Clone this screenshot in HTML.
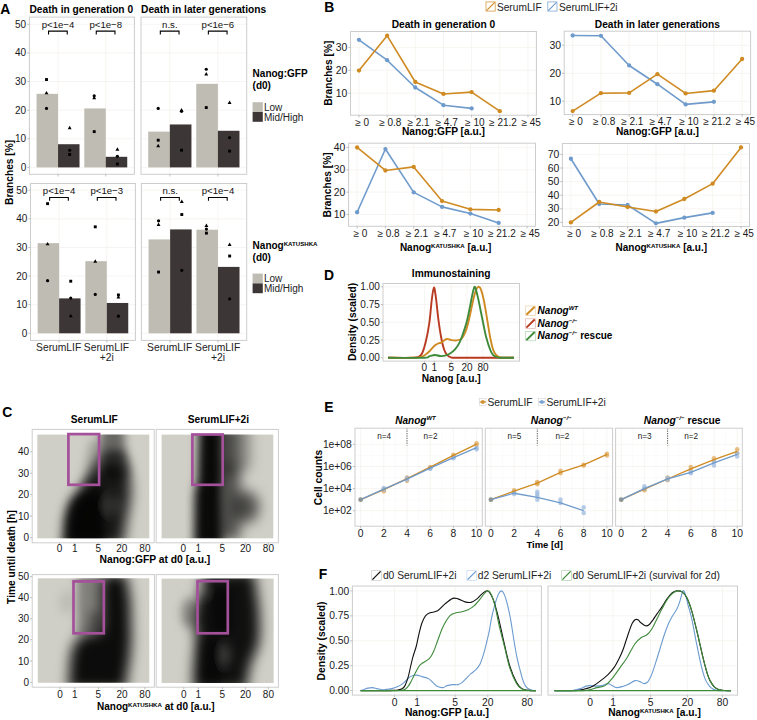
<!DOCTYPE html>
<html><head><meta charset="utf-8"><style>
html,body{margin:0;padding:0;background:#fff;width:757px;height:720px;overflow:hidden;}
body{position:relative;font-family:"Liberation Sans", sans-serif;}
</style></head><body>
<svg width="757" height="720" viewBox="0 0 757 720" style="position:absolute;left:0;top:0">
<g font-family='"Liberation Sans", sans-serif'>
<text x="0.20" y="14.00" font-size="13.9" text-anchor="start" font-weight="bold" font-style="normal" fill="#000" >A</text>
<text x="324.20" y="11.80" font-size="13.9" text-anchor="start" font-weight="bold" font-style="normal" fill="#000" >B</text>
<text x="2.20" y="417.20" font-size="13.9" text-anchor="start" font-weight="bold" font-style="normal" fill="#000" >C</text>
<text x="324.00" y="280.00" font-size="13.9" text-anchor="start" font-weight="bold" font-style="normal" fill="#000" >D</text>
<text x="324.20" y="412.00" font-size="13.9" text-anchor="start" font-weight="bold" font-style="normal" fill="#000" >E</text>
<text x="318.80" y="578.70" font-size="13.9" text-anchor="start" font-weight="bold" font-style="normal" fill="#000" >F</text>
<line x1="29.40" y1="167.40" x2="134.40" y2="167.40" stroke="#f1efe8" stroke-width="0.6"/>
<line x1="29.40" y1="138.78" x2="134.40" y2="138.78" stroke="#f1efe8" stroke-width="0.6"/>
<line x1="29.40" y1="110.16" x2="134.40" y2="110.16" stroke="#f1efe8" stroke-width="0.6"/>
<line x1="29.40" y1="81.54" x2="134.40" y2="81.54" stroke="#f1efe8" stroke-width="0.6"/>
<line x1="29.40" y1="52.92" x2="134.40" y2="52.92" stroke="#f1efe8" stroke-width="0.6"/>
<line x1="29.40" y1="24.30" x2="134.40" y2="24.30" stroke="#f1efe8" stroke-width="0.6"/>
<line x1="58.04" y1="17.10" x2="58.04" y2="174.30" stroke="#f1efe8" stroke-width="0.6" />
<line x1="105.76" y1="17.10" x2="105.76" y2="174.30" stroke="#f1efe8" stroke-width="0.6" />
<rect x="36.56" y="93.85" width="21.48" height="73.55" fill="#bfbcb3"/>
<rect x="58.04" y="144.22" width="21.48" height="23.18" fill="#3d3636"/>
<rect x="45.05" y="78.09" width="2.9" height="2.9" fill="#000"/>
<path d="M46.50,90.89 L48.45,94.34 L44.55,94.34Z" fill="#000"/>
<circle cx="46.50" cy="108.44" r="1.6" fill="#000"/>
<path d="M69.67,125.80 L71.62,129.25 L67.72,129.25Z" fill="#000"/>
<circle cx="69.67" cy="150.23" r="1.6" fill="#000"/>
<rect x="68.22" y="153.07" width="2.9" height="2.9" fill="#000"/>
<path d="M48.54,34.40 V31.10 H67.24 V34.40" fill="none" stroke="#000" stroke-width="1.1"/>
<text x="58.04" y="27.90" font-size="9.6" text-anchor="middle" font-weight="normal" font-style="normal" fill="#111" >p&lt;1e&#8722;4</text>
<rect x="84.29" y="108.44" width="21.48" height="58.96" fill="#bfbcb3"/>
<rect x="105.76" y="156.81" width="21.48" height="10.59" fill="#3d3636"/>
<circle cx="94.22" cy="95.85" r="1.6" fill="#000"/>
<path d="M94.22,95.75 L96.17,99.20 L92.27,99.20Z" fill="#000"/>
<rect x="92.77" y="130.18" width="2.9" height="2.9" fill="#000"/>
<path d="M117.40,147.27 L119.35,150.72 L115.45,150.72Z" fill="#000"/>
<circle cx="117.40" cy="156.24" r="1.6" fill="#000"/>
<rect x="115.95" y="162.52" width="2.9" height="2.9" fill="#000"/>
<path d="M96.26,34.40 V31.10 H114.96 V34.40" fill="none" stroke="#000" stroke-width="1.1"/>
<text x="105.76" y="27.90" font-size="9.6" text-anchor="middle" font-weight="normal" font-style="normal" fill="#111" >p&lt;1e&#8722;8</text>
<rect x="29.40" y="17.10" width="105.00" height="157.20" fill="none" stroke="#cdcdcd" stroke-width="1"/>
<line x1="58.04" y1="174.30" x2="58.04" y2="176.50" stroke="#a8a8a8" stroke-width="0.7"/>
<line x1="105.76" y1="174.30" x2="105.76" y2="176.50" stroke="#a8a8a8" stroke-width="0.7"/>
<line x1="141.00" y1="167.40" x2="246.70" y2="167.40" stroke="#f1efe8" stroke-width="0.6"/>
<line x1="141.00" y1="138.78" x2="246.70" y2="138.78" stroke="#f1efe8" stroke-width="0.6"/>
<line x1="141.00" y1="110.16" x2="246.70" y2="110.16" stroke="#f1efe8" stroke-width="0.6"/>
<line x1="141.00" y1="81.54" x2="246.70" y2="81.54" stroke="#f1efe8" stroke-width="0.6"/>
<line x1="141.00" y1="52.92" x2="246.70" y2="52.92" stroke="#f1efe8" stroke-width="0.6"/>
<line x1="141.00" y1="24.30" x2="246.70" y2="24.30" stroke="#f1efe8" stroke-width="0.6"/>
<line x1="169.83" y1="17.10" x2="169.83" y2="174.30" stroke="#f1efe8" stroke-width="0.6" />
<line x1="217.87" y1="17.10" x2="217.87" y2="174.30" stroke="#f1efe8" stroke-width="0.6" />
<rect x="148.21" y="131.62" width="21.62" height="35.78" fill="#bfbcb3"/>
<rect x="169.83" y="124.47" width="21.62" height="42.93" fill="#3d3636"/>
<circle cx="158.22" cy="108.44" r="1.6" fill="#000"/>
<rect x="156.77" y="138.76" width="2.9" height="2.9" fill="#000"/>
<path d="M158.22,143.84 L160.17,147.28 L156.27,147.28Z" fill="#000"/>
<path d="M181.54,108.06 L183.49,111.51 L179.59,111.51Z" fill="#000"/>
<circle cx="181.54" cy="111.30" r="1.6" fill="#000"/>
<rect x="180.09" y="148.78" width="2.9" height="2.9" fill="#000"/>
<path d="M160.33,34.40 V31.10 H179.03 V34.40" fill="none" stroke="#000" stroke-width="1.1"/>
<text x="169.83" y="27.90" font-size="9.6" text-anchor="middle" font-weight="normal" font-style="normal" fill="#111" >n.s.</text>
<rect x="196.25" y="83.83" width="21.62" height="83.57" fill="#bfbcb3"/>
<rect x="217.87" y="130.77" width="21.62" height="36.63" fill="#3d3636"/>
<circle cx="206.26" cy="69.23" r="1.6" fill="#000"/>
<path d="M206.26,72.00 L208.21,75.45 L204.31,75.45Z" fill="#000"/>
<rect x="204.81" y="106.13" width="2.9" height="2.9" fill="#000"/>
<path d="M229.58,100.62 L231.53,104.07 L227.63,104.07Z" fill="#000"/>
<circle cx="229.58" cy="137.64" r="1.6" fill="#000"/>
<rect x="228.13" y="149.64" width="2.9" height="2.9" fill="#000"/>
<path d="M208.37,34.40 V31.10 H227.07 V34.40" fill="none" stroke="#000" stroke-width="1.1"/>
<text x="217.87" y="27.90" font-size="9.6" text-anchor="middle" font-weight="normal" font-style="normal" fill="#111" >p&lt;1e&#8722;6</text>
<rect x="141.00" y="17.10" width="105.70" height="157.20" fill="none" stroke="#cdcdcd" stroke-width="1"/>
<line x1="169.83" y1="174.30" x2="169.83" y2="176.50" stroke="#a8a8a8" stroke-width="0.7"/>
<line x1="217.87" y1="174.30" x2="217.87" y2="176.50" stroke="#a8a8a8" stroke-width="0.7"/>
<line x1="30.50" y1="333.30" x2="135.40" y2="333.30" stroke="#f1efe8" stroke-width="0.6"/>
<line x1="30.50" y1="304.68" x2="135.40" y2="304.68" stroke="#f1efe8" stroke-width="0.6"/>
<line x1="30.50" y1="276.06" x2="135.40" y2="276.06" stroke="#f1efe8" stroke-width="0.6"/>
<line x1="30.50" y1="247.44" x2="135.40" y2="247.44" stroke="#f1efe8" stroke-width="0.6"/>
<line x1="30.50" y1="218.82" x2="135.40" y2="218.82" stroke="#f1efe8" stroke-width="0.6"/>
<line x1="30.50" y1="190.20" x2="135.40" y2="190.20" stroke="#f1efe8" stroke-width="0.6"/>
<line x1="59.11" y1="183.50" x2="59.11" y2="340.40" stroke="#f1efe8" stroke-width="0.6" />
<line x1="106.79" y1="183.50" x2="106.79" y2="340.40" stroke="#f1efe8" stroke-width="0.6" />
<rect x="37.65" y="243.15" width="21.46" height="90.15" fill="#bfbcb3"/>
<rect x="59.11" y="298.38" width="21.46" height="34.92" fill="#3d3636"/>
<rect x="46.13" y="202.20" width="2.9" height="2.9" fill="#000"/>
<path d="M47.58,241.91 L49.53,245.36 L45.63,245.36Z" fill="#000"/>
<circle cx="47.58" cy="280.64" r="1.6" fill="#000"/>
<rect x="69.29" y="279.76" width="2.9" height="2.9" fill="#000"/>
<circle cx="70.74" cy="298.10" r="1.6" fill="#000"/>
<path d="M70.74,313.74 L72.69,317.19 L68.79,317.19Z" fill="#000"/>
<path d="M49.61,200.80 V197.50 H68.31 V200.80" fill="none" stroke="#000" stroke-width="1.1"/>
<text x="59.11" y="194.30" font-size="9.6" text-anchor="middle" font-weight="normal" font-style="normal" fill="#111" >p&lt;1e&#8722;4</text>
<rect x="85.33" y="261.18" width="21.46" height="72.12" fill="#bfbcb3"/>
<rect x="106.79" y="302.96" width="21.46" height="30.34" fill="#3d3636"/>
<rect x="93.81" y="225.38" width="2.9" height="2.9" fill="#000"/>
<path d="M95.26,259.36 L97.21,262.81 L93.31,262.81Z" fill="#000"/>
<circle cx="95.26" cy="294.38" r="1.6" fill="#000"/>
<rect x="116.97" y="293.50" width="2.9" height="2.9" fill="#000"/>
<path d="M118.42,295.14 L120.37,298.59 L116.47,298.59Z" fill="#000"/>
<circle cx="118.42" cy="316.13" r="1.6" fill="#000"/>
<path d="M97.29,200.80 V197.50 H115.99 V200.80" fill="none" stroke="#000" stroke-width="1.1"/>
<text x="106.79" y="194.30" font-size="9.6" text-anchor="middle" font-weight="normal" font-style="normal" fill="#111" >p&lt;1e&#8722;3</text>
<rect x="30.50" y="183.50" width="104.90" height="156.90" fill="none" stroke="#cdcdcd" stroke-width="1"/>
<line x1="59.11" y1="340.40" x2="59.11" y2="342.60" stroke="#a8a8a8" stroke-width="0.7"/>
<line x1="106.79" y1="340.40" x2="106.79" y2="342.60" stroke="#a8a8a8" stroke-width="0.7"/>
<line x1="141.40" y1="333.30" x2="246.70" y2="333.30" stroke="#f1efe8" stroke-width="0.6"/>
<line x1="141.40" y1="304.68" x2="246.70" y2="304.68" stroke="#f1efe8" stroke-width="0.6"/>
<line x1="141.40" y1="276.06" x2="246.70" y2="276.06" stroke="#f1efe8" stroke-width="0.6"/>
<line x1="141.40" y1="247.44" x2="246.70" y2="247.44" stroke="#f1efe8" stroke-width="0.6"/>
<line x1="141.40" y1="218.82" x2="246.70" y2="218.82" stroke="#f1efe8" stroke-width="0.6"/>
<line x1="141.40" y1="190.20" x2="246.70" y2="190.20" stroke="#f1efe8" stroke-width="0.6"/>
<line x1="170.12" y1="183.50" x2="170.12" y2="340.40" stroke="#f1efe8" stroke-width="0.6" />
<line x1="217.98" y1="183.50" x2="217.98" y2="340.40" stroke="#f1efe8" stroke-width="0.6" />
<rect x="148.58" y="239.43" width="21.54" height="93.87" fill="#bfbcb3"/>
<rect x="170.12" y="229.41" width="21.54" height="103.89" fill="#3d3636"/>
<circle cx="158.55" cy="220.82" r="1.6" fill="#000"/>
<path d="M158.55,222.44 L160.50,225.89 L156.60,225.89Z" fill="#000"/>
<rect x="157.10" y="270.60" width="2.9" height="2.9" fill="#000"/>
<path d="M181.79,199.55 L183.74,203.00 L179.84,203.00Z" fill="#000"/>
<rect x="180.34" y="213.08" width="2.9" height="2.9" fill="#000"/>
<circle cx="181.79" cy="270.34" r="1.6" fill="#000"/>
<path d="M160.62,200.80 V197.50 H179.32 V200.80" fill="none" stroke="#000" stroke-width="1.1"/>
<text x="170.12" y="194.30" font-size="9.6" text-anchor="middle" font-weight="normal" font-style="normal" fill="#111" >n.s.</text>
<rect x="196.44" y="229.70" width="21.54" height="103.60" fill="#bfbcb3"/>
<rect x="217.98" y="266.90" width="21.54" height="66.40" fill="#3d3636"/>
<path d="M206.41,223.59 L208.36,227.04 L204.46,227.04Z" fill="#000"/>
<circle cx="206.41" cy="229.12" r="1.6" fill="#000"/>
<rect x="204.96" y="231.68" width="2.9" height="2.9" fill="#000"/>
<path d="M229.65,242.48 L231.60,245.93 L227.70,245.93Z" fill="#000"/>
<rect x="228.20" y="254.58" width="2.9" height="2.9" fill="#000"/>
<circle cx="229.65" cy="298.96" r="1.6" fill="#000"/>
<path d="M208.48,200.80 V197.50 H227.18 V200.80" fill="none" stroke="#000" stroke-width="1.1"/>
<text x="217.98" y="194.30" font-size="9.6" text-anchor="middle" font-weight="normal" font-style="normal" fill="#111" >p&lt;1e&#8722;4</text>
<rect x="141.40" y="183.50" width="105.30" height="156.90" fill="none" stroke="#cdcdcd" stroke-width="1"/>
<line x1="170.12" y1="340.40" x2="170.12" y2="342.60" stroke="#a8a8a8" stroke-width="0.7"/>
<line x1="217.98" y1="340.40" x2="217.98" y2="342.60" stroke="#a8a8a8" stroke-width="0.7"/>
<line x1="27.20" y1="167.40" x2="29.40" y2="167.40" stroke="#a8a8a8" stroke-width="0.7"/>
<text x="26.20" y="170.90" font-size="10" text-anchor="end" font-weight="normal" font-style="normal" fill="#1a1a1a" >0</text>
<line x1="28.30" y1="333.30" x2="30.50" y2="333.30" stroke="#a8a8a8" stroke-width="0.7"/>
<text x="27.30" y="336.80" font-size="10" text-anchor="end" font-weight="normal" font-style="normal" fill="#1a1a1a" >0</text>
<line x1="27.20" y1="138.78" x2="29.40" y2="138.78" stroke="#a8a8a8" stroke-width="0.7"/>
<text x="26.20" y="142.28" font-size="10" text-anchor="end" font-weight="normal" font-style="normal" fill="#1a1a1a" >10</text>
<line x1="28.30" y1="304.68" x2="30.50" y2="304.68" stroke="#a8a8a8" stroke-width="0.7"/>
<text x="27.30" y="308.18" font-size="10" text-anchor="end" font-weight="normal" font-style="normal" fill="#1a1a1a" >10</text>
<line x1="27.20" y1="110.16" x2="29.40" y2="110.16" stroke="#a8a8a8" stroke-width="0.7"/>
<text x="26.20" y="113.66" font-size="10" text-anchor="end" font-weight="normal" font-style="normal" fill="#1a1a1a" >20</text>
<line x1="28.30" y1="276.06" x2="30.50" y2="276.06" stroke="#a8a8a8" stroke-width="0.7"/>
<text x="27.30" y="279.56" font-size="10" text-anchor="end" font-weight="normal" font-style="normal" fill="#1a1a1a" >20</text>
<line x1="27.20" y1="81.54" x2="29.40" y2="81.54" stroke="#a8a8a8" stroke-width="0.7"/>
<text x="26.20" y="85.04" font-size="10" text-anchor="end" font-weight="normal" font-style="normal" fill="#1a1a1a" >30</text>
<line x1="28.30" y1="247.44" x2="30.50" y2="247.44" stroke="#a8a8a8" stroke-width="0.7"/>
<text x="27.30" y="250.94" font-size="10" text-anchor="end" font-weight="normal" font-style="normal" fill="#1a1a1a" >30</text>
<line x1="27.20" y1="52.92" x2="29.40" y2="52.92" stroke="#a8a8a8" stroke-width="0.7"/>
<text x="26.20" y="56.42" font-size="10" text-anchor="end" font-weight="normal" font-style="normal" fill="#1a1a1a" >40</text>
<line x1="28.30" y1="218.82" x2="30.50" y2="218.82" stroke="#a8a8a8" stroke-width="0.7"/>
<text x="27.30" y="222.32" font-size="10" text-anchor="end" font-weight="normal" font-style="normal" fill="#1a1a1a" >40</text>
<line x1="27.20" y1="24.30" x2="29.40" y2="24.30" stroke="#a8a8a8" stroke-width="0.7"/>
<text x="26.20" y="27.80" font-size="10" text-anchor="end" font-weight="normal" font-style="normal" fill="#1a1a1a" >50</text>
<line x1="28.30" y1="190.20" x2="30.50" y2="190.20" stroke="#a8a8a8" stroke-width="0.7"/>
<text x="27.30" y="193.70" font-size="10" text-anchor="end" font-weight="normal" font-style="normal" fill="#1a1a1a" >50</text>
<text x="29.50" y="13.30" font-size="10.2" text-anchor="start" font-weight="bold" font-style="normal" fill="#000" >Death in generation 0</text>
<text x="141.10" y="13.30" font-size="10.2" text-anchor="start" font-weight="bold" font-style="normal" fill="#000" >Death in later generations</text>
<text transform="translate(13.40,172.40) rotate(-90)" font-size="10.2" text-anchor="middle" font-weight="bold" fill="#000">Branches [%]</text>
<text x="58.66" y="350.60" font-size="10.3" text-anchor="middle" font-weight="normal" font-style="normal" fill="#222" >SerumLIF</text>
<text x="106.44" y="350.60" font-size="10.3" text-anchor="middle" font-weight="normal" font-style="normal" fill="#222" >SerumLIF</text>
<text x="106.89" y="361.40" font-size="10.3" text-anchor="middle" font-weight="normal" font-style="normal" fill="#222" >+2i</text>
<text x="169.67" y="350.60" font-size="10.3" text-anchor="middle" font-weight="normal" font-style="normal" fill="#222" >SerumLIF</text>
<text x="217.63" y="350.60" font-size="10.3" text-anchor="middle" font-weight="normal" font-style="normal" fill="#222" >SerumLIF</text>
<text x="218.08" y="361.40" font-size="10.3" text-anchor="middle" font-weight="normal" font-style="normal" fill="#222" >+2i</text>
<text x="252.60" y="77.20" font-size="10" text-anchor="start" font-weight="bold" font-style="normal" fill="#000" >Nanog:GFP</text>
<text x="252.60" y="89.00" font-size="10" text-anchor="start" font-weight="bold" font-style="normal" fill="#000" >(d0)</text>
<rect x="252.6" y="102.20" width="10.2" height="9.8" fill="#bfbcb3"/>
<rect x="252.6" y="112.00" width="10.2" height="9.8" fill="#3d3636"/>
<text x="263.90" y="110.60" font-size="10" text-anchor="start" font-weight="normal" font-style="normal" fill="#222" >Low</text>
<text x="263.90" y="120.50" font-size="10" text-anchor="start" font-weight="normal" font-style="normal" fill="#222" >Mid/High</text>
<text x="252.6" y="248.90" font-size="10" font-weight="bold">Nanog<tspan font-size="6.1" dy="-3.1">KATUSHKA</tspan></text>
<text x="252.60" y="260.70" font-size="10" text-anchor="start" font-weight="bold" font-style="normal" fill="#000" >(d0)</text>
<rect x="252.6" y="273.60" width="10.2" height="9.8" fill="#bfbcb3"/>
<rect x="252.6" y="283.40" width="10.2" height="9.8" fill="#3d3636"/>
<text x="263.90" y="282.00" font-size="10" text-anchor="start" font-weight="normal" font-style="normal" fill="#222" >Low</text>
<text x="263.90" y="291.90" font-size="10" text-anchor="start" font-weight="normal" font-style="normal" fill="#222" >Mid/High</text>
<line x1="350.50" y1="93.25" x2="536.40" y2="93.25" stroke="#f1efe8" stroke-width="0.6"/>
<line x1="350.50" y1="70.30" x2="536.40" y2="70.30" stroke="#f1efe8" stroke-width="0.6"/>
<line x1="350.50" y1="47.35" x2="536.40" y2="47.35" stroke="#f1efe8" stroke-width="0.6"/>
<line x1="358.95" y1="31.50" x2="358.95" y2="115.20" stroke="#f1efe8" stroke-width="0.6" />
<line x1="387.12" y1="31.50" x2="387.12" y2="115.20" stroke="#f1efe8" stroke-width="0.6" />
<line x1="415.28" y1="31.50" x2="415.28" y2="115.20" stroke="#f1efe8" stroke-width="0.6" />
<line x1="443.45" y1="31.50" x2="443.45" y2="115.20" stroke="#f1efe8" stroke-width="0.6" />
<line x1="471.62" y1="31.50" x2="471.62" y2="115.20" stroke="#f1efe8" stroke-width="0.6" />
<line x1="499.78" y1="31.50" x2="499.78" y2="115.20" stroke="#f1efe8" stroke-width="0.6" />
<line x1="527.95" y1="31.50" x2="527.95" y2="115.20" stroke="#f1efe8" stroke-width="0.6" />
<path d="M358.95,39.78 L387.12,60.20 L415.28,87.51 L443.45,105.18 L471.62,108.40" fill="none" stroke="#6f9bcc" stroke-width="1.6" stroke-linejoin="round"/>
<circle cx="358.95" cy="39.78" r="2.15" fill="#6f9bcc"/>
<circle cx="387.12" cy="60.20" r="2.15" fill="#6f9bcc"/>
<circle cx="415.28" cy="87.51" r="2.15" fill="#6f9bcc"/>
<circle cx="443.45" cy="105.18" r="2.15" fill="#6f9bcc"/>
<circle cx="471.62" cy="108.40" r="2.15" fill="#6f9bcc"/>
<path d="M358.95,70.53 L387.12,35.65 L415.28,82.00 L443.45,93.94 L471.62,92.10 L499.78,111.15" fill="none" stroke="#cf8a22" stroke-width="1.6" stroke-linejoin="round"/>
<circle cx="358.95" cy="70.53" r="2.15" fill="#cf8a22"/>
<circle cx="387.12" cy="35.65" r="2.15" fill="#cf8a22"/>
<circle cx="415.28" cy="82.00" r="2.15" fill="#cf8a22"/>
<circle cx="443.45" cy="93.94" r="2.15" fill="#cf8a22"/>
<circle cx="471.62" cy="92.10" r="2.15" fill="#cf8a22"/>
<circle cx="499.78" cy="111.15" r="2.15" fill="#cf8a22"/>
<rect x="350.50" y="31.50" width="185.90" height="83.70" fill="none" stroke="#cdcdcd" stroke-width="1"/>
<line x1="348.30" y1="93.25" x2="350.50" y2="93.25" stroke="#a8a8a8" stroke-width="0.7"/>
<text x="347.30" y="96.89" font-size="10.4" text-anchor="end" font-weight="normal" font-style="normal" fill="#1a1a1a" >10</text>
<line x1="348.30" y1="70.30" x2="350.50" y2="70.30" stroke="#a8a8a8" stroke-width="0.7"/>
<text x="347.30" y="73.94" font-size="10.4" text-anchor="end" font-weight="normal" font-style="normal" fill="#1a1a1a" >20</text>
<line x1="348.30" y1="47.35" x2="350.50" y2="47.35" stroke="#a8a8a8" stroke-width="0.7"/>
<text x="347.30" y="50.99" font-size="10.4" text-anchor="end" font-weight="normal" font-style="normal" fill="#1a1a1a" >30</text>
<line x1="358.95" y1="115.20" x2="358.95" y2="117.40" stroke="#a8a8a8" stroke-width="0.7"/>
<text x="362.15" y="125.60" font-size="10" text-anchor="middle" font-weight="normal" font-style="normal" fill="#1a1a1a" >&#8805; 0</text>
<line x1="387.12" y1="115.20" x2="387.12" y2="117.40" stroke="#a8a8a8" stroke-width="0.7"/>
<text x="390.32" y="125.60" font-size="10" text-anchor="middle" font-weight="normal" font-style="normal" fill="#1a1a1a" >&#8805; 0.8</text>
<line x1="415.28" y1="115.20" x2="415.28" y2="117.40" stroke="#a8a8a8" stroke-width="0.7"/>
<text x="418.48" y="125.60" font-size="10" text-anchor="middle" font-weight="normal" font-style="normal" fill="#1a1a1a" >&#8805; 2.1</text>
<line x1="443.45" y1="115.20" x2="443.45" y2="117.40" stroke="#a8a8a8" stroke-width="0.7"/>
<text x="446.65" y="125.60" font-size="10" text-anchor="middle" font-weight="normal" font-style="normal" fill="#1a1a1a" >&#8805; 4.7</text>
<line x1="471.62" y1="115.20" x2="471.62" y2="117.40" stroke="#a8a8a8" stroke-width="0.7"/>
<text x="474.82" y="125.60" font-size="10" text-anchor="middle" font-weight="normal" font-style="normal" fill="#1a1a1a" >&#8805; 10</text>
<line x1="499.78" y1="115.20" x2="499.78" y2="117.40" stroke="#a8a8a8" stroke-width="0.7"/>
<text x="502.98" y="125.60" font-size="10" text-anchor="middle" font-weight="normal" font-style="normal" fill="#1a1a1a" >&#8805; 21.2</text>
<line x1="527.95" y1="115.20" x2="527.95" y2="117.40" stroke="#a8a8a8" stroke-width="0.7"/>
<text x="531.15" y="125.60" font-size="10" text-anchor="middle" font-weight="normal" font-style="normal" fill="#1a1a1a" >&#8805; 45</text>
<text x="443.45" y="28.00" font-size="10.2" text-anchor="middle" font-weight="bold" font-style="normal" fill="#000" >Death in generation 0</text>
<text x="443.45" y="135.30" font-size="10.2" text-anchor="middle" font-weight="bold" font-style="normal" fill="#000" >Nanog:GFP [a.u.]</text>
<line x1="564.20" y1="101.30" x2="750.60" y2="101.30" stroke="#f1efe8" stroke-width="0.6"/>
<line x1="564.20" y1="73.30" x2="750.60" y2="73.30" stroke="#f1efe8" stroke-width="0.6"/>
<line x1="564.20" y1="45.30" x2="750.60" y2="45.30" stroke="#f1efe8" stroke-width="0.6"/>
<line x1="572.67" y1="31.20" x2="572.67" y2="114.60" stroke="#f1efe8" stroke-width="0.6" />
<line x1="600.92" y1="31.20" x2="600.92" y2="114.60" stroke="#f1efe8" stroke-width="0.6" />
<line x1="629.16" y1="31.20" x2="629.16" y2="114.60" stroke="#f1efe8" stroke-width="0.6" />
<line x1="657.40" y1="31.20" x2="657.40" y2="114.60" stroke="#f1efe8" stroke-width="0.6" />
<line x1="685.64" y1="31.20" x2="685.64" y2="114.60" stroke="#f1efe8" stroke-width="0.6" />
<line x1="713.88" y1="31.20" x2="713.88" y2="114.60" stroke="#f1efe8" stroke-width="0.6" />
<line x1="742.13" y1="31.20" x2="742.13" y2="114.60" stroke="#f1efe8" stroke-width="0.6" />
<path d="M572.67,35.50 L600.92,35.78 L629.16,65.46 L657.40,84.22 L685.64,104.38 L713.88,101.86" fill="none" stroke="#6f9bcc" stroke-width="1.6" stroke-linejoin="round"/>
<circle cx="572.67" cy="35.50" r="2.15" fill="#6f9bcc"/>
<circle cx="600.92" cy="35.78" r="2.15" fill="#6f9bcc"/>
<circle cx="629.16" cy="65.46" r="2.15" fill="#6f9bcc"/>
<circle cx="657.40" cy="84.22" r="2.15" fill="#6f9bcc"/>
<circle cx="685.64" cy="104.38" r="2.15" fill="#6f9bcc"/>
<circle cx="713.88" cy="101.86" r="2.15" fill="#6f9bcc"/>
<path d="M572.67,111.10 L600.92,93.18 L629.16,92.90 L657.40,74.14 L685.64,93.46 L713.88,90.66 L742.13,59.02" fill="none" stroke="#cf8a22" stroke-width="1.6" stroke-linejoin="round"/>
<circle cx="572.67" cy="111.10" r="2.15" fill="#cf8a22"/>
<circle cx="600.92" cy="93.18" r="2.15" fill="#cf8a22"/>
<circle cx="629.16" cy="92.90" r="2.15" fill="#cf8a22"/>
<circle cx="657.40" cy="74.14" r="2.15" fill="#cf8a22"/>
<circle cx="685.64" cy="93.46" r="2.15" fill="#cf8a22"/>
<circle cx="713.88" cy="90.66" r="2.15" fill="#cf8a22"/>
<circle cx="742.13" cy="59.02" r="2.15" fill="#cf8a22"/>
<rect x="564.20" y="31.20" width="186.40" height="83.40" fill="none" stroke="#cdcdcd" stroke-width="1"/>
<line x1="562.00" y1="101.30" x2="564.20" y2="101.30" stroke="#a8a8a8" stroke-width="0.7"/>
<text x="561.00" y="104.94" font-size="10.4" text-anchor="end" font-weight="normal" font-style="normal" fill="#1a1a1a" >10</text>
<line x1="562.00" y1="73.30" x2="564.20" y2="73.30" stroke="#a8a8a8" stroke-width="0.7"/>
<text x="561.00" y="76.94" font-size="10.4" text-anchor="end" font-weight="normal" font-style="normal" fill="#1a1a1a" >20</text>
<line x1="562.00" y1="45.30" x2="564.20" y2="45.30" stroke="#a8a8a8" stroke-width="0.7"/>
<text x="561.00" y="48.94" font-size="10.4" text-anchor="end" font-weight="normal" font-style="normal" fill="#1a1a1a" >30</text>
<line x1="572.67" y1="114.60" x2="572.67" y2="116.80" stroke="#a8a8a8" stroke-width="0.7"/>
<text x="575.87" y="125.00" font-size="10" text-anchor="middle" font-weight="normal" font-style="normal" fill="#1a1a1a" >&#8805; 0</text>
<line x1="600.92" y1="114.60" x2="600.92" y2="116.80" stroke="#a8a8a8" stroke-width="0.7"/>
<text x="604.12" y="125.00" font-size="10" text-anchor="middle" font-weight="normal" font-style="normal" fill="#1a1a1a" >&#8805; 0.8</text>
<line x1="629.16" y1="114.60" x2="629.16" y2="116.80" stroke="#a8a8a8" stroke-width="0.7"/>
<text x="632.36" y="125.00" font-size="10" text-anchor="middle" font-weight="normal" font-style="normal" fill="#1a1a1a" >&#8805; 2.1</text>
<line x1="657.40" y1="114.60" x2="657.40" y2="116.80" stroke="#a8a8a8" stroke-width="0.7"/>
<text x="660.60" y="125.00" font-size="10" text-anchor="middle" font-weight="normal" font-style="normal" fill="#1a1a1a" >&#8805; 4.7</text>
<line x1="685.64" y1="114.60" x2="685.64" y2="116.80" stroke="#a8a8a8" stroke-width="0.7"/>
<text x="688.84" y="125.00" font-size="10" text-anchor="middle" font-weight="normal" font-style="normal" fill="#1a1a1a" >&#8805; 10</text>
<line x1="713.88" y1="114.60" x2="713.88" y2="116.80" stroke="#a8a8a8" stroke-width="0.7"/>
<text x="717.08" y="125.00" font-size="10" text-anchor="middle" font-weight="normal" font-style="normal" fill="#1a1a1a" >&#8805; 21.2</text>
<line x1="742.13" y1="114.60" x2="742.13" y2="116.80" stroke="#a8a8a8" stroke-width="0.7"/>
<text x="745.33" y="125.00" font-size="10" text-anchor="middle" font-weight="normal" font-style="normal" fill="#1a1a1a" >&#8805; 45</text>
<text x="657.40" y="28.00" font-size="10.2" text-anchor="middle" font-weight="bold" font-style="normal" fill="#000" >Death in later generations</text>
<text x="657.40" y="135.30" font-size="10.2" text-anchor="middle" font-weight="bold" font-style="normal" fill="#000" >Nanog:GFP [a.u.]</text>
<line x1="348.60" y1="214.47" x2="535.50" y2="214.47" stroke="#f1efe8" stroke-width="0.6"/>
<line x1="348.60" y1="192.14" x2="535.50" y2="192.14" stroke="#f1efe8" stroke-width="0.6"/>
<line x1="348.60" y1="169.81" x2="535.50" y2="169.81" stroke="#f1efe8" stroke-width="0.6"/>
<line x1="348.60" y1="147.48" x2="535.50" y2="147.48" stroke="#f1efe8" stroke-width="0.6"/>
<line x1="357.10" y1="143.20" x2="357.10" y2="226.30" stroke="#f1efe8" stroke-width="0.6" />
<line x1="385.41" y1="143.20" x2="385.41" y2="226.30" stroke="#f1efe8" stroke-width="0.6" />
<line x1="413.73" y1="143.20" x2="413.73" y2="226.30" stroke="#f1efe8" stroke-width="0.6" />
<line x1="442.05" y1="143.20" x2="442.05" y2="226.30" stroke="#f1efe8" stroke-width="0.6" />
<line x1="470.37" y1="143.20" x2="470.37" y2="226.30" stroke="#f1efe8" stroke-width="0.6" />
<line x1="498.69" y1="143.20" x2="498.69" y2="226.30" stroke="#f1efe8" stroke-width="0.6" />
<line x1="527.00" y1="143.20" x2="527.00" y2="226.30" stroke="#f1efe8" stroke-width="0.6" />
<path d="M357.10,212.24 L385.41,149.04 L413.73,192.36 L442.05,206.88 L470.37,213.58 L498.69,222.96" fill="none" stroke="#6f9bcc" stroke-width="1.6" stroke-linejoin="round"/>
<circle cx="357.10" cy="212.24" r="2.15" fill="#6f9bcc"/>
<circle cx="385.41" cy="149.04" r="2.15" fill="#6f9bcc"/>
<circle cx="413.73" cy="192.36" r="2.15" fill="#6f9bcc"/>
<circle cx="442.05" cy="206.88" r="2.15" fill="#6f9bcc"/>
<circle cx="470.37" cy="213.58" r="2.15" fill="#6f9bcc"/>
<circle cx="498.69" cy="222.96" r="2.15" fill="#6f9bcc"/>
<path d="M357.10,147.48 L385.41,170.48 L413.73,166.91 L442.05,201.07 L470.37,209.33 L498.69,210.00" fill="none" stroke="#cf8a22" stroke-width="1.6" stroke-linejoin="round"/>
<circle cx="357.10" cy="147.48" r="2.15" fill="#cf8a22"/>
<circle cx="385.41" cy="170.48" r="2.15" fill="#cf8a22"/>
<circle cx="413.73" cy="166.91" r="2.15" fill="#cf8a22"/>
<circle cx="442.05" cy="201.07" r="2.15" fill="#cf8a22"/>
<circle cx="470.37" cy="209.33" r="2.15" fill="#cf8a22"/>
<circle cx="498.69" cy="210.00" r="2.15" fill="#cf8a22"/>
<rect x="348.60" y="143.20" width="186.90" height="83.10" fill="none" stroke="#cdcdcd" stroke-width="1"/>
<line x1="346.40" y1="214.47" x2="348.60" y2="214.47" stroke="#a8a8a8" stroke-width="0.7"/>
<text x="345.40" y="218.11" font-size="10.4" text-anchor="end" font-weight="normal" font-style="normal" fill="#1a1a1a" >10</text>
<line x1="346.40" y1="192.14" x2="348.60" y2="192.14" stroke="#a8a8a8" stroke-width="0.7"/>
<text x="345.40" y="195.78" font-size="10.4" text-anchor="end" font-weight="normal" font-style="normal" fill="#1a1a1a" >20</text>
<line x1="346.40" y1="169.81" x2="348.60" y2="169.81" stroke="#a8a8a8" stroke-width="0.7"/>
<text x="345.40" y="173.45" font-size="10.4" text-anchor="end" font-weight="normal" font-style="normal" fill="#1a1a1a" >30</text>
<line x1="346.40" y1="147.48" x2="348.60" y2="147.48" stroke="#a8a8a8" stroke-width="0.7"/>
<text x="345.40" y="151.12" font-size="10.4" text-anchor="end" font-weight="normal" font-style="normal" fill="#1a1a1a" >40</text>
<line x1="357.10" y1="226.30" x2="357.10" y2="228.50" stroke="#a8a8a8" stroke-width="0.7"/>
<text x="360.30" y="236.70" font-size="10" text-anchor="middle" font-weight="normal" font-style="normal" fill="#1a1a1a" >&#8805; 0</text>
<line x1="385.41" y1="226.30" x2="385.41" y2="228.50" stroke="#a8a8a8" stroke-width="0.7"/>
<text x="388.61" y="236.70" font-size="10" text-anchor="middle" font-weight="normal" font-style="normal" fill="#1a1a1a" >&#8805; 0.8</text>
<line x1="413.73" y1="226.30" x2="413.73" y2="228.50" stroke="#a8a8a8" stroke-width="0.7"/>
<text x="416.93" y="236.70" font-size="10" text-anchor="middle" font-weight="normal" font-style="normal" fill="#1a1a1a" >&#8805; 2.1</text>
<line x1="442.05" y1="226.30" x2="442.05" y2="228.50" stroke="#a8a8a8" stroke-width="0.7"/>
<text x="445.25" y="236.70" font-size="10" text-anchor="middle" font-weight="normal" font-style="normal" fill="#1a1a1a" >&#8805; 4.7</text>
<line x1="470.37" y1="226.30" x2="470.37" y2="228.50" stroke="#a8a8a8" stroke-width="0.7"/>
<text x="473.57" y="236.70" font-size="10" text-anchor="middle" font-weight="normal" font-style="normal" fill="#1a1a1a" >&#8805; 10</text>
<line x1="498.69" y1="226.30" x2="498.69" y2="228.50" stroke="#a8a8a8" stroke-width="0.7"/>
<text x="501.89" y="236.70" font-size="10" text-anchor="middle" font-weight="normal" font-style="normal" fill="#1a1a1a" >&#8805; 21.2</text>
<line x1="527.00" y1="226.30" x2="527.00" y2="228.50" stroke="#a8a8a8" stroke-width="0.7"/>
<text x="530.20" y="236.70" font-size="10" text-anchor="middle" font-weight="normal" font-style="normal" fill="#1a1a1a" >&#8805; 45</text>
<text x="399.90" y="251.10" font-size="10" font-weight="bold">Nanog<tspan font-size="6.1" dy="-2.9">KATUSHKA</tspan><tspan dy="2.9"> [a.u.]</tspan></text>
<line x1="562.40" y1="222.40" x2="749.50" y2="222.40" stroke="#f1efe8" stroke-width="0.6"/>
<line x1="562.40" y1="208.80" x2="749.50" y2="208.80" stroke="#f1efe8" stroke-width="0.6"/>
<line x1="562.40" y1="195.20" x2="749.50" y2="195.20" stroke="#f1efe8" stroke-width="0.6"/>
<line x1="562.40" y1="181.60" x2="749.50" y2="181.60" stroke="#f1efe8" stroke-width="0.6"/>
<line x1="562.40" y1="168.00" x2="749.50" y2="168.00" stroke="#f1efe8" stroke-width="0.6"/>
<line x1="562.40" y1="154.40" x2="749.50" y2="154.40" stroke="#f1efe8" stroke-width="0.6"/>
<line x1="570.90" y1="143.50" x2="570.90" y2="226.50" stroke="#f1efe8" stroke-width="0.6" />
<line x1="599.25" y1="143.50" x2="599.25" y2="226.50" stroke="#f1efe8" stroke-width="0.6" />
<line x1="627.60" y1="143.50" x2="627.60" y2="226.50" stroke="#f1efe8" stroke-width="0.6" />
<line x1="655.95" y1="143.50" x2="655.95" y2="226.50" stroke="#f1efe8" stroke-width="0.6" />
<line x1="684.30" y1="143.50" x2="684.30" y2="226.50" stroke="#f1efe8" stroke-width="0.6" />
<line x1="712.65" y1="143.50" x2="712.65" y2="226.50" stroke="#f1efe8" stroke-width="0.6" />
<line x1="741.00" y1="143.50" x2="741.00" y2="226.50" stroke="#f1efe8" stroke-width="0.6" />
<path d="M570.90,158.75 L599.25,204.04 L627.60,204.99 L655.95,223.35 L684.30,217.64 L712.65,212.88" fill="none" stroke="#6f9bcc" stroke-width="1.6" stroke-linejoin="round"/>
<circle cx="570.90" cy="158.75" r="2.15" fill="#6f9bcc"/>
<circle cx="599.25" cy="204.04" r="2.15" fill="#6f9bcc"/>
<circle cx="627.60" cy="204.99" r="2.15" fill="#6f9bcc"/>
<circle cx="655.95" cy="223.35" r="2.15" fill="#6f9bcc"/>
<circle cx="684.30" cy="217.64" r="2.15" fill="#6f9bcc"/>
<circle cx="712.65" cy="212.88" r="2.15" fill="#6f9bcc"/>
<path d="M570.90,222.40 L599.25,202.00 L627.60,207.03 L655.95,211.52 L684.30,199.01 L712.65,183.64 L741.00,147.46" fill="none" stroke="#cf8a22" stroke-width="1.6" stroke-linejoin="round"/>
<circle cx="570.90" cy="222.40" r="2.15" fill="#cf8a22"/>
<circle cx="599.25" cy="202.00" r="2.15" fill="#cf8a22"/>
<circle cx="627.60" cy="207.03" r="2.15" fill="#cf8a22"/>
<circle cx="655.95" cy="211.52" r="2.15" fill="#cf8a22"/>
<circle cx="684.30" cy="199.01" r="2.15" fill="#cf8a22"/>
<circle cx="712.65" cy="183.64" r="2.15" fill="#cf8a22"/>
<circle cx="741.00" cy="147.46" r="2.15" fill="#cf8a22"/>
<rect x="562.40" y="143.50" width="187.10" height="83.00" fill="none" stroke="#cdcdcd" stroke-width="1"/>
<line x1="560.20" y1="222.40" x2="562.40" y2="222.40" stroke="#a8a8a8" stroke-width="0.7"/>
<text x="559.20" y="226.04" font-size="10.4" text-anchor="end" font-weight="normal" font-style="normal" fill="#1a1a1a" >20</text>
<line x1="560.20" y1="208.80" x2="562.40" y2="208.80" stroke="#a8a8a8" stroke-width="0.7"/>
<text x="559.20" y="212.44" font-size="10.4" text-anchor="end" font-weight="normal" font-style="normal" fill="#1a1a1a" >30</text>
<line x1="560.20" y1="195.20" x2="562.40" y2="195.20" stroke="#a8a8a8" stroke-width="0.7"/>
<text x="559.20" y="198.84" font-size="10.4" text-anchor="end" font-weight="normal" font-style="normal" fill="#1a1a1a" >40</text>
<line x1="560.20" y1="181.60" x2="562.40" y2="181.60" stroke="#a8a8a8" stroke-width="0.7"/>
<text x="559.20" y="185.24" font-size="10.4" text-anchor="end" font-weight="normal" font-style="normal" fill="#1a1a1a" >50</text>
<line x1="560.20" y1="168.00" x2="562.40" y2="168.00" stroke="#a8a8a8" stroke-width="0.7"/>
<text x="559.20" y="171.64" font-size="10.4" text-anchor="end" font-weight="normal" font-style="normal" fill="#1a1a1a" >60</text>
<line x1="560.20" y1="154.40" x2="562.40" y2="154.40" stroke="#a8a8a8" stroke-width="0.7"/>
<text x="559.20" y="158.04" font-size="10.4" text-anchor="end" font-weight="normal" font-style="normal" fill="#1a1a1a" >70</text>
<line x1="570.90" y1="226.50" x2="570.90" y2="228.70" stroke="#a8a8a8" stroke-width="0.7"/>
<text x="574.10" y="236.90" font-size="10" text-anchor="middle" font-weight="normal" font-style="normal" fill="#1a1a1a" >&#8805; 0</text>
<line x1="599.25" y1="226.50" x2="599.25" y2="228.70" stroke="#a8a8a8" stroke-width="0.7"/>
<text x="602.45" y="236.90" font-size="10" text-anchor="middle" font-weight="normal" font-style="normal" fill="#1a1a1a" >&#8805; 0.8</text>
<line x1="627.60" y1="226.50" x2="627.60" y2="228.70" stroke="#a8a8a8" stroke-width="0.7"/>
<text x="630.80" y="236.90" font-size="10" text-anchor="middle" font-weight="normal" font-style="normal" fill="#1a1a1a" >&#8805; 2.1</text>
<line x1="655.95" y1="226.50" x2="655.95" y2="228.70" stroke="#a8a8a8" stroke-width="0.7"/>
<text x="659.15" y="236.90" font-size="10" text-anchor="middle" font-weight="normal" font-style="normal" fill="#1a1a1a" >&#8805; 4.7</text>
<line x1="684.30" y1="226.50" x2="684.30" y2="228.70" stroke="#a8a8a8" stroke-width="0.7"/>
<text x="687.50" y="236.90" font-size="10" text-anchor="middle" font-weight="normal" font-style="normal" fill="#1a1a1a" >&#8805; 10</text>
<line x1="712.65" y1="226.50" x2="712.65" y2="228.70" stroke="#a8a8a8" stroke-width="0.7"/>
<text x="715.85" y="236.90" font-size="10" text-anchor="middle" font-weight="normal" font-style="normal" fill="#1a1a1a" >&#8805; 21.2</text>
<line x1="741.00" y1="226.50" x2="741.00" y2="228.70" stroke="#a8a8a8" stroke-width="0.7"/>
<text x="744.20" y="236.90" font-size="10" text-anchor="middle" font-weight="normal" font-style="normal" fill="#1a1a1a" >&#8805; 45</text>
<text x="615.50" y="251.10" font-size="10" font-weight="bold">Nanog<tspan font-size="6.1" dy="-2.9">KATUSHKA</tspan><tspan dy="2.9"> [a.u.]</tspan></text>
<text transform="translate(332.00,73.20) rotate(-90)" font-size="10.2" text-anchor="middle" font-weight="bold" fill="#000">Branches [%]</text>
<text transform="translate(331.30,184.90) rotate(-90)" font-size="10.2" text-anchor="middle" font-weight="bold" fill="#000">Branches [%]</text>
<rect x="486.00" y="1.90" width="9.2" height="9.2" fill="#fff" stroke="#cf8a22" stroke-opacity="0.85" stroke-width="0.8"/>
<line x1="486.50" y1="10.60" x2="494.70" y2="2.40" stroke="#cf8a22" stroke-width="1.1"/>
<text x="496.90" y="10.50" font-size="10.2" text-anchor="start" font-weight="normal" font-style="normal" fill="#222" >SerumLIF</text>
<rect x="547.80" y="1.90" width="9.2" height="9.2" fill="#fff" stroke="#6f9bcc" stroke-opacity="0.85" stroke-width="0.8"/>
<line x1="548.30" y1="10.60" x2="556.50" y2="2.40" stroke="#6f9bcc" stroke-width="1.1"/>
<text x="559.00" y="10.50" font-size="10.2" text-anchor="start" font-weight="normal" font-style="normal" fill="#222" >SerumLIF+2i</text>
<defs>
<filter id="blur4" x="-20%" y="-20%" width="140%" height="140%"><feGaussianBlur stdDeviation="4.2"/></filter>
<filter id="blur3" x="-20%" y="-20%" width="140%" height="140%"><feGaussianBlur stdDeviation="3.2"/></filter>
<filter id="blur7" x="-30%" y="-30%" width="160%" height="160%"><feGaussianBlur stdDeviation="6.5"/></filter>
<filter id="blur5" x="-30%" y="-30%" width="160%" height="160%"><feGaussianBlur stdDeviation="4.8"/></filter>
<clipPath id="cp1"><rect x="37.3" y="434.6" width="112" height="103.7"/></clipPath>
<clipPath id="cp2"><rect x="161.6" y="434.6" width="111.7" height="103.7"/></clipPath>
<clipPath id="cp3"><rect x="37.8" y="578.3" width="111.5" height="104.5"/></clipPath>
<clipPath id="cp4"><rect x="161.6" y="578.6" width="112" height="104.4"/></clipPath>
</defs>
<rect x="37.3" y="434.6" width="112.00" height="103.70" fill="#d0cfc7"/>
<g clip-path="url(#cp1)">
<g filter="url(#blur7)"><path d="M64,546 L65,537 L66,518 L70.5,502 L78.7,490.7 L87,482.7 L96.5,470 L101.5,458 L123,458 L128,470 L131,486 L130,502 L127,518 L124,537 L123.5,546Z" fill="#000" fill-opacity="0.88"/></g>
<g filter="url(#blur5)"><path d="M63,546 L65,537 L66.5,518 L71,503 L80,493 L102,490 L106,546Z" fill="#000" fill-opacity="0.82"/><path d="M101,426 L124,426 L126,462 L101,462Z" fill="#000" fill-opacity="0.5"/><path d="M104,450 L126,450 L130,470 L126,480 L102,480Z" fill="#000" fill-opacity="0.45"/><path d="M80,490 L92,468 L100,452 L100,490Z" fill="#000" fill-opacity="0.4"/><path d="M90,440 L101,440 L101,490 L80,490Z" fill="#000" fill-opacity="0.22"/><ellipse cx="114" cy="505" rx="8" ry="10" fill="#d0cfc7" fill-opacity="0.12"/></g>
</g>
<rect x="32.20" y="429.40" width="122.00" height="113.40" fill="none" stroke="#cdcdcd" stroke-width="1"/>
<rect x="68.4" y="434.1" width="30.70" height="50.70" fill="none" stroke="#a4509a" stroke-width="2.7"/>
<line x1="59.60" y1="542.80" x2="59.60" y2="545.00" stroke="#a8a8a8" stroke-width="0.7"/>
<text x="59.60" y="552.40" font-size="10" text-anchor="middle" font-weight="normal" font-style="normal" fill="#1a1a1a" >0</text>
<line x1="74.70" y1="542.80" x2="74.70" y2="545.00" stroke="#a8a8a8" stroke-width="0.7"/>
<text x="74.70" y="552.40" font-size="10" text-anchor="middle" font-weight="normal" font-style="normal" fill="#1a1a1a" >1</text>
<line x1="98.20" y1="542.80" x2="98.20" y2="545.00" stroke="#a8a8a8" stroke-width="0.7"/>
<text x="98.20" y="552.40" font-size="10" text-anchor="middle" font-weight="normal" font-style="normal" fill="#1a1a1a" >5</text>
<line x1="121.80" y1="542.80" x2="121.80" y2="545.00" stroke="#a8a8a8" stroke-width="0.7"/>
<text x="121.80" y="552.40" font-size="10" text-anchor="middle" font-weight="normal" font-style="normal" fill="#1a1a1a" >20</text>
<line x1="144.90" y1="542.80" x2="144.90" y2="545.00" stroke="#a8a8a8" stroke-width="0.7"/>
<text x="144.90" y="552.40" font-size="10" text-anchor="middle" font-weight="normal" font-style="normal" fill="#1a1a1a" >80</text>
<line x1="30.00" y1="451.70" x2="32.20" y2="451.70" stroke="#a8a8a8" stroke-width="0.7"/>
<text x="29.00" y="455.20" font-size="10" text-anchor="end" font-weight="normal" font-style="normal" fill="#1a1a1a" >40</text>
<line x1="30.00" y1="473.20" x2="32.20" y2="473.20" stroke="#a8a8a8" stroke-width="0.7"/>
<text x="29.00" y="476.70" font-size="10" text-anchor="end" font-weight="normal" font-style="normal" fill="#1a1a1a" >30</text>
<line x1="30.00" y1="494.60" x2="32.20" y2="494.60" stroke="#a8a8a8" stroke-width="0.7"/>
<text x="29.00" y="498.10" font-size="10" text-anchor="end" font-weight="normal" font-style="normal" fill="#1a1a1a" >20</text>
<line x1="30.00" y1="516.10" x2="32.20" y2="516.10" stroke="#a8a8a8" stroke-width="0.7"/>
<text x="29.00" y="519.60" font-size="10" text-anchor="end" font-weight="normal" font-style="normal" fill="#1a1a1a" >10</text>
<line x1="30.00" y1="537.70" x2="32.20" y2="537.70" stroke="#a8a8a8" stroke-width="0.7"/>
<text x="29.00" y="541.20" font-size="10" text-anchor="end" font-weight="normal" font-style="normal" fill="#1a1a1a" >0</text>
<rect x="161.6" y="434.6" width="111.70" height="103.70" fill="#d0cfc7"/>
<g clip-path="url(#cp2)">
<g filter="url(#blur5)"><path d="M199,426 L222.5,426 L222.5,478 L222,490 L223,546 L194,546 L194.5,494 L197.5,480Z" fill="#000" fill-opacity="0.95"/></g>
<g filter="url(#blur7)"><path d="M219,426 L236,426 L236,472 L219,472Z" fill="#000" fill-opacity="0.68"/><path d="M234,426 L250,426 L250,470 L234,470Z" fill="#000" fill-opacity="0.36"/><ellipse cx="247" cy="507" rx="12" ry="16" fill="#000" fill-opacity="0.62"/><path d="M218,466 L240,466 L240,540 L218,540Z" fill="#000" fill-opacity="0.62"/></g>
</g>
<rect x="156.20" y="429.40" width="122.20" height="113.40" fill="none" stroke="#cdcdcd" stroke-width="1"/>
<rect x="192.4" y="434.5" width="30.30" height="50.30" fill="none" stroke="#a4509a" stroke-width="2.7"/>
<line x1="183.30" y1="542.80" x2="183.30" y2="545.00" stroke="#a8a8a8" stroke-width="0.7"/>
<text x="183.30" y="552.40" font-size="10" text-anchor="middle" font-weight="normal" font-style="normal" fill="#1a1a1a" >0</text>
<line x1="198.40" y1="542.80" x2="198.40" y2="545.00" stroke="#a8a8a8" stroke-width="0.7"/>
<text x="198.40" y="552.40" font-size="10" text-anchor="middle" font-weight="normal" font-style="normal" fill="#1a1a1a" >1</text>
<line x1="222.20" y1="542.80" x2="222.20" y2="545.00" stroke="#a8a8a8" stroke-width="0.7"/>
<text x="222.20" y="552.40" font-size="10" text-anchor="middle" font-weight="normal" font-style="normal" fill="#1a1a1a" >5</text>
<line x1="245.60" y1="542.80" x2="245.60" y2="545.00" stroke="#a8a8a8" stroke-width="0.7"/>
<text x="245.60" y="552.40" font-size="10" text-anchor="middle" font-weight="normal" font-style="normal" fill="#1a1a1a" >20</text>
<line x1="268.40" y1="542.80" x2="268.40" y2="545.00" stroke="#a8a8a8" stroke-width="0.7"/>
<text x="268.40" y="552.40" font-size="10" text-anchor="middle" font-weight="normal" font-style="normal" fill="#1a1a1a" >80</text>
<rect x="37.8" y="578.3" width="111.50" height="104.50" fill="#d0cfc7"/>
<g clip-path="url(#cp3)">
<g filter="url(#blur7)"><path d="M68,690 L69,679 L70.5,655 L75,642 L81,636 L90,633 L101,632 L101,583 L104,574 L126,574 L130.5,600 L131.4,639 L129.8,660 L126.5,679 L126,690Z" fill="#000" fill-opacity="0.94"/></g>
<g filter="url(#blur5)"><path d="M77,574 L104,574 L104,634 L77,634Z" fill="#000" fill-opacity="0.38"/><path d="M88,612 L104,612 L104,634 L88,634Z" fill="#000" fill-opacity="0.3"/><ellipse cx="66" cy="602" rx="6" ry="12" fill="#000" fill-opacity="0.1"/></g>
</g>
<rect x="32.20" y="574.60" width="122.20" height="112.60" fill="none" stroke="#cdcdcd" stroke-width="1"/>
<rect x="73.5" y="581.4" width="30.30" height="51.90" fill="none" stroke="#a4509a" stroke-width="2.7"/>
<line x1="60.00" y1="687.20" x2="60.00" y2="689.40" stroke="#a8a8a8" stroke-width="0.7"/>
<text x="60.00" y="697.80" font-size="10" text-anchor="middle" font-weight="normal" font-style="normal" fill="#1a1a1a" >0</text>
<line x1="74.90" y1="687.20" x2="74.90" y2="689.40" stroke="#a8a8a8" stroke-width="0.7"/>
<text x="74.90" y="697.80" font-size="10" text-anchor="middle" font-weight="normal" font-style="normal" fill="#1a1a1a" >1</text>
<line x1="98.40" y1="687.20" x2="98.40" y2="689.40" stroke="#a8a8a8" stroke-width="0.7"/>
<text x="98.40" y="697.80" font-size="10" text-anchor="middle" font-weight="normal" font-style="normal" fill="#1a1a1a" >5</text>
<line x1="122.00" y1="687.20" x2="122.00" y2="689.40" stroke="#a8a8a8" stroke-width="0.7"/>
<text x="122.00" y="697.80" font-size="10" text-anchor="middle" font-weight="normal" font-style="normal" fill="#1a1a1a" >20</text>
<line x1="144.90" y1="687.20" x2="144.90" y2="689.40" stroke="#a8a8a8" stroke-width="0.7"/>
<text x="144.90" y="697.80" font-size="10" text-anchor="middle" font-weight="normal" font-style="normal" fill="#1a1a1a" >80</text>
<line x1="30.00" y1="576.60" x2="32.20" y2="576.60" stroke="#a8a8a8" stroke-width="0.7"/>
<text x="29.00" y="580.10" font-size="10" text-anchor="end" font-weight="normal" font-style="normal" fill="#1a1a1a" >50</text>
<line x1="30.00" y1="597.70" x2="32.20" y2="597.70" stroke="#a8a8a8" stroke-width="0.7"/>
<text x="29.00" y="601.20" font-size="10" text-anchor="end" font-weight="normal" font-style="normal" fill="#1a1a1a" >40</text>
<line x1="30.00" y1="618.80" x2="32.20" y2="618.80" stroke="#a8a8a8" stroke-width="0.7"/>
<text x="29.00" y="622.30" font-size="10" text-anchor="end" font-weight="normal" font-style="normal" fill="#1a1a1a" >30</text>
<line x1="30.00" y1="639.70" x2="32.20" y2="639.70" stroke="#a8a8a8" stroke-width="0.7"/>
<text x="29.00" y="643.20" font-size="10" text-anchor="end" font-weight="normal" font-style="normal" fill="#1a1a1a" >20</text>
<line x1="30.00" y1="661.00" x2="32.20" y2="661.00" stroke="#a8a8a8" stroke-width="0.7"/>
<text x="29.00" y="664.50" font-size="10" text-anchor="end" font-weight="normal" font-style="normal" fill="#1a1a1a" >10</text>
<line x1="30.00" y1="682.30" x2="32.20" y2="682.30" stroke="#a8a8a8" stroke-width="0.7"/>
<text x="29.00" y="685.80" font-size="10" text-anchor="end" font-weight="normal" font-style="normal" fill="#1a1a1a" >0</text>
<rect x="161.6" y="578.6" width="112.00" height="104.40" fill="#d0cfc7"/>
<g clip-path="url(#cp4)">
<g filter="url(#blur7)"><path d="M202,572 L254,572 L259,607 L260,630 L258.5,646 L251,663 L247.5,679 L247,690 L193,690 L193.2,679 L194,663 L196.4,639 L193.2,623 L194.8,607 L202.7,583Z" fill="#000" fill-opacity="0.92"/></g>
<g filter="url(#blur5)"><ellipse cx="188" cy="613" rx="7" ry="15" fill="#000" fill-opacity="0.3"/><ellipse cx="227" cy="655" rx="3.5" ry="11" fill="#d0cfc7" fill-opacity="0.25"/><ellipse cx="202" cy="590" rx="3" ry="7" fill="#d0cfc7" fill-opacity="0.35"/><path d="M200,640 L222,640 L222,690 L200,690Z" fill="#000" fill-opacity="0.5"/><path d="M212,590 L232,590 L232,632 L212,632Z" fill="#000" fill-opacity="0.5"/></g>
</g>
<rect x="156.20" y="574.60" width="122.20" height="112.60" fill="none" stroke="#cdcdcd" stroke-width="1"/>
<rect x="197.5" y="581.2" width="30.30" height="52.10" fill="none" stroke="#a4509a" stroke-width="2.7"/>
<line x1="183.80" y1="687.20" x2="183.80" y2="689.40" stroke="#a8a8a8" stroke-width="0.7"/>
<text x="183.80" y="697.80" font-size="10" text-anchor="middle" font-weight="normal" font-style="normal" fill="#1a1a1a" >0</text>
<line x1="198.40" y1="687.20" x2="198.40" y2="689.40" stroke="#a8a8a8" stroke-width="0.7"/>
<text x="198.40" y="697.80" font-size="10" text-anchor="middle" font-weight="normal" font-style="normal" fill="#1a1a1a" >1</text>
<line x1="222.40" y1="687.20" x2="222.40" y2="689.40" stroke="#a8a8a8" stroke-width="0.7"/>
<text x="222.40" y="697.80" font-size="10" text-anchor="middle" font-weight="normal" font-style="normal" fill="#1a1a1a" >5</text>
<line x1="245.60" y1="687.20" x2="245.60" y2="689.40" stroke="#a8a8a8" stroke-width="0.7"/>
<text x="245.60" y="697.80" font-size="10" text-anchor="middle" font-weight="normal" font-style="normal" fill="#1a1a1a" >20</text>
<line x1="268.40" y1="687.20" x2="268.40" y2="689.40" stroke="#a8a8a8" stroke-width="0.7"/>
<text x="268.40" y="697.80" font-size="10" text-anchor="middle" font-weight="normal" font-style="normal" fill="#1a1a1a" >80</text>
<text x="94.20" y="422.80" font-size="10.2" text-anchor="middle" font-weight="bold" font-style="normal" fill="#000" >SerumLIF</text>
<text x="218.40" y="422.80" font-size="10.2" text-anchor="middle" font-weight="bold" font-style="normal" fill="#000" >SerumLIF+2i</text>
<text x="154.90" y="562.80" font-size="10.3" text-anchor="middle" font-weight="bold" font-style="normal" fill="#000" >Nanog:GFP at d0 [a.u.]</text>
<text x="97.0" y="709.5" font-size="10" font-weight="bold">Nanog<tspan font-size="6.1" dy="-2.9">KATUSHKA</tspan><tspan dy="2.9"> at d0 [a.u.]</tspan></text>
<text transform="translate(15.00,557.00) rotate(-90)" font-size="10.2" text-anchor="middle" font-weight="bold" fill="#000">Time until death [h]</text>
<line x1="383.00" y1="357.80" x2="519.50" y2="357.80" stroke="#f1efe8" stroke-width="0.6"/>
<line x1="383.00" y1="340.05" x2="519.50" y2="340.05" stroke="#f1efe8" stroke-width="0.6"/>
<line x1="383.00" y1="322.30" x2="519.50" y2="322.30" stroke="#f1efe8" stroke-width="0.6"/>
<line x1="383.00" y1="304.55" x2="519.50" y2="304.55" stroke="#f1efe8" stroke-width="0.6"/>
<line x1="383.00" y1="286.80" x2="519.50" y2="286.80" stroke="#f1efe8" stroke-width="0.6"/>
<line x1="424.40" y1="283.50" x2="424.40" y2="361.10" stroke="#f1efe8" stroke-width="0.6" />
<line x1="434.30" y1="283.50" x2="434.30" y2="361.10" stroke="#f1efe8" stroke-width="0.6" />
<line x1="451.20" y1="283.50" x2="451.20" y2="361.10" stroke="#f1efe8" stroke-width="0.6" />
<line x1="467.00" y1="283.50" x2="467.00" y2="361.10" stroke="#f1efe8" stroke-width="0.6" />
<line x1="483.00" y1="283.50" x2="483.00" y2="361.10" stroke="#f1efe8" stroke-width="0.6" />
<path d="M388.00,357.80 C392.00,357.80 407.00,357.92 412.00,357.80 C417.00,357.68 416.33,357.80 418.00,357.09 C419.67,356.38 420.67,356.26 422.00,353.54 C423.33,350.82 424.77,345.97 426.00,340.76 C427.23,335.55 428.43,329.16 429.40,322.30 C430.37,315.44 431.05,305.38 431.80,299.58 C432.55,293.78 433.22,287.87 433.90,287.51 C434.58,287.15 435.17,292.24 435.90,297.45 C436.63,302.66 437.45,312.24 438.30,318.75 C439.15,325.26 440.05,331.41 441.00,336.50 C441.95,341.59 443.00,346.20 444.00,349.28 C445.00,352.36 445.83,353.60 447.00,354.96 C448.17,356.32 448.83,356.97 451.00,357.44 C453.17,357.92 449.50,357.74 460.00,357.80 C470.50,357.86 505.00,357.80 514.00,357.80" fill="none" stroke="#b83a20" stroke-width="1.9" stroke-linejoin="round"/>
<path d="M388.00,357.80 C392.33,357.80 408.67,357.92 414.00,357.80 C419.33,357.68 418.17,357.56 420.00,357.09 C421.83,356.62 423.33,356.03 425.00,354.96 C426.67,353.90 428.42,352.24 430.00,350.70 C431.58,349.16 433.18,346.91 434.50,345.73 C435.82,344.55 436.82,344.13 437.90,343.60 C438.98,343.07 439.53,343.30 441.00,342.54 C442.47,341.77 445.03,339.40 446.70,338.99 C448.37,338.57 449.33,339.81 451.00,340.05 C452.67,340.29 454.93,340.64 456.70,340.41 C458.47,340.17 460.22,339.87 461.60,338.63 C462.98,337.39 463.93,335.44 465.00,332.95 C466.07,330.46 467.00,327.51 468.00,323.72 C469.00,319.93 470.00,314.73 471.00,310.23 C472.00,305.73 473.08,300.29 474.00,296.74 C474.92,293.19 475.70,290.59 476.50,288.93 C477.30,287.27 478.05,286.68 478.80,286.80 C479.55,286.92 480.13,287.27 481.00,289.64 C481.87,292.01 482.93,295.79 484.00,301.00 C485.07,306.21 486.40,314.96 487.40,320.88 C488.40,326.80 489.07,331.77 490.00,336.50 C490.93,341.23 492.00,346.20 493.00,349.28 C494.00,352.36 494.83,353.60 496.00,354.96 C497.17,356.32 498.50,356.97 500.00,357.44 C501.50,357.92 502.67,357.74 505.00,357.80 C507.33,357.86 512.50,357.80 514.00,357.80" fill="none" stroke="#cf8a22" stroke-width="1.9" stroke-linejoin="round"/>
<path d="M388.00,357.80 C394.00,357.80 417.17,358.04 424.00,357.80 C430.83,357.56 427.18,356.85 429.00,356.38 C430.82,355.91 433.07,355.02 434.90,354.96 C436.73,354.90 438.32,355.91 440.00,356.03 C441.68,356.14 443.33,356.08 445.00,355.67 C446.67,355.26 448.33,354.61 450.00,353.54 C451.67,352.48 453.50,350.94 455.00,349.28 C456.50,347.62 457.83,345.73 459.00,343.60 C460.17,341.47 460.73,340.05 462.00,336.50 C463.27,332.95 465.27,327.27 466.60,322.30 C467.93,317.33 469.02,311.41 470.00,306.68 C470.98,301.95 471.75,297.21 472.50,293.90 C473.25,290.59 473.83,287.16 474.50,286.80 C475.17,286.44 475.75,289.17 476.50,291.77 C477.25,294.37 477.92,297.33 479.00,302.42 C480.08,307.51 481.83,316.62 483.00,322.30 C484.17,327.98 484.83,332.00 486.00,336.50 C487.17,341.00 488.83,346.20 490.00,349.28 C491.17,352.36 491.78,353.60 493.00,354.96 C494.22,356.32 495.80,356.97 497.30,357.44 C498.80,357.92 499.22,357.74 502.00,357.80 C504.78,357.86 512.00,357.80 514.00,357.80" fill="none" stroke="#3e8a3a" stroke-width="1.9" stroke-linejoin="round"/>
<rect x="383.00" y="283.50" width="136.50" height="77.60" fill="none" stroke="#cdcdcd" stroke-width="1"/>
<line x1="380.80" y1="286.80" x2="383.00" y2="286.80" stroke="#a8a8a8" stroke-width="0.7"/>
<text x="379.80" y="290.30" font-size="10" text-anchor="end" font-weight="normal" font-style="normal" fill="#1a1a1a" >1.00</text>
<line x1="380.80" y1="304.55" x2="383.00" y2="304.55" stroke="#a8a8a8" stroke-width="0.7"/>
<text x="379.80" y="308.05" font-size="10" text-anchor="end" font-weight="normal" font-style="normal" fill="#1a1a1a" >0.75</text>
<line x1="380.80" y1="322.30" x2="383.00" y2="322.30" stroke="#a8a8a8" stroke-width="0.7"/>
<text x="379.80" y="325.80" font-size="10" text-anchor="end" font-weight="normal" font-style="normal" fill="#1a1a1a" >0.50</text>
<line x1="380.80" y1="340.05" x2="383.00" y2="340.05" stroke="#a8a8a8" stroke-width="0.7"/>
<text x="379.80" y="343.55" font-size="10" text-anchor="end" font-weight="normal" font-style="normal" fill="#1a1a1a" >0.25</text>
<line x1="380.80" y1="357.80" x2="383.00" y2="357.80" stroke="#a8a8a8" stroke-width="0.7"/>
<text x="379.80" y="361.30" font-size="10" text-anchor="end" font-weight="normal" font-style="normal" fill="#1a1a1a" >0.00</text>
<line x1="424.40" y1="361.10" x2="424.40" y2="363.30" stroke="#a8a8a8" stroke-width="0.7"/>
<text x="424.40" y="371.40" font-size="10" text-anchor="middle" font-weight="normal" font-style="normal" fill="#1a1a1a" >0</text>
<line x1="434.30" y1="361.10" x2="434.30" y2="363.30" stroke="#a8a8a8" stroke-width="0.7"/>
<text x="434.30" y="371.40" font-size="10" text-anchor="middle" font-weight="normal" font-style="normal" fill="#1a1a1a" >1</text>
<line x1="451.20" y1="361.10" x2="451.20" y2="363.30" stroke="#a8a8a8" stroke-width="0.7"/>
<text x="451.20" y="371.40" font-size="10" text-anchor="middle" font-weight="normal" font-style="normal" fill="#1a1a1a" >5</text>
<line x1="467.00" y1="361.10" x2="467.00" y2="363.30" stroke="#a8a8a8" stroke-width="0.7"/>
<text x="467.00" y="371.40" font-size="10" text-anchor="middle" font-weight="normal" font-style="normal" fill="#1a1a1a" >20</text>
<line x1="483.00" y1="361.10" x2="483.00" y2="363.30" stroke="#a8a8a8" stroke-width="0.7"/>
<text x="483.00" y="371.40" font-size="10" text-anchor="middle" font-weight="normal" font-style="normal" fill="#1a1a1a" >80</text>
<text x="451.20" y="277.40" font-size="10.2" text-anchor="middle" font-weight="bold" font-style="normal" fill="#000" >Immunostaining</text>
<text x="451.20" y="382.00" font-size="10.2" text-anchor="middle" font-weight="bold" font-style="normal" fill="#000" >Nanog [a.u.]</text>
<text transform="translate(355.70,322.00) rotate(-90)" font-size="10.2" text-anchor="middle" font-weight="bold" fill="#000">Density (scaled)</text>
<rect x="525.70" y="306.00" width="9.70" height="9.50" fill="#fff" stroke="#cf8a22" stroke-opacity="0.45" stroke-width="0.6"/>
<line x1="526.40" y1="314.80" x2="534.70" y2="306.70" stroke="#cf8a22" stroke-width="1.9"/>
<rect x="525.70" y="318.80" width="9.70" height="9.50" fill="#fff" stroke="#b83a20" stroke-opacity="0.45" stroke-width="0.6"/>
<line x1="526.40" y1="327.60" x2="534.70" y2="319.50" stroke="#b83a20" stroke-width="1.9"/>
<rect x="525.70" y="331.30" width="9.70" height="9.50" fill="#fff" stroke="#3e8a3a" stroke-opacity="0.45" stroke-width="0.6"/>
<line x1="526.40" y1="340.10" x2="534.70" y2="332.00" stroke="#3e8a3a" stroke-width="1.9"/>
<text x="537.6" y="313.9" font-size="10" font-weight="bold" font-style="italic">Nanog<tspan font-size="6" dy="-3.6">WT</tspan></text>
<text x="537.6" y="326.7" font-size="10" font-weight="bold" font-style="italic">Nanog<tspan font-size="6" dy="-3.6">&#8722;/&#8722;</tspan></text>
<text x="537.6" y="339.0" font-size="10" font-weight="bold" font-style="italic">Nanog<tspan font-size="6" dy="-3.6">&#8722;/&#8722;</tspan><tspan dy="3.6" font-style="normal"> rescue</tspan></text>
<line x1="355.00" y1="510.70" x2="482.30" y2="510.70" stroke="#f1efe8" stroke-width="0.6"/>
<line x1="355.00" y1="488.60" x2="482.30" y2="488.60" stroke="#f1efe8" stroke-width="0.6"/>
<line x1="355.00" y1="466.50" x2="482.30" y2="466.50" stroke="#f1efe8" stroke-width="0.6"/>
<line x1="355.00" y1="444.40" x2="482.30" y2="444.40" stroke="#f1efe8" stroke-width="0.6"/>
<line x1="355.00" y1="499.65" x2="482.30" y2="499.65" stroke="#f7f6f2" stroke-width="0.4"/>
<line x1="355.00" y1="477.55" x2="482.30" y2="477.55" stroke="#f7f6f2" stroke-width="0.4"/>
<line x1="355.00" y1="455.45" x2="482.30" y2="455.45" stroke="#f7f6f2" stroke-width="0.4"/>
<line x1="360.60" y1="428.20" x2="360.60" y2="526.20" stroke="#f1efe8" stroke-width="0.6" />
<line x1="383.80" y1="428.20" x2="383.80" y2="526.20" stroke="#f1efe8" stroke-width="0.6" />
<line x1="407.00" y1="428.20" x2="407.00" y2="526.20" stroke="#f1efe8" stroke-width="0.6" />
<line x1="430.20" y1="428.20" x2="430.20" y2="526.20" stroke="#f1efe8" stroke-width="0.6" />
<line x1="453.40" y1="428.20" x2="453.40" y2="526.20" stroke="#f1efe8" stroke-width="0.6" />
<line x1="476.60" y1="428.20" x2="476.60" y2="526.20" stroke="#f1efe8" stroke-width="0.6" />
<line x1="372.20" y1="428.20" x2="372.20" y2="526.20" stroke="#f7f6f2" stroke-width="0.4" />
<line x1="395.40" y1="428.20" x2="395.40" y2="526.20" stroke="#f7f6f2" stroke-width="0.4" />
<line x1="418.60" y1="428.20" x2="418.60" y2="526.20" stroke="#f7f6f2" stroke-width="0.4" />
<line x1="441.80" y1="428.20" x2="441.80" y2="526.20" stroke="#f7f6f2" stroke-width="0.4" />
<line x1="465.00" y1="428.20" x2="465.00" y2="526.20" stroke="#f7f6f2" stroke-width="0.4" />
<circle cx="383.80" cy="491.36" r="2.3" fill="#e0a858" fill-opacity="0.75"/>
<circle cx="383.80" cy="489.15" r="2.3" fill="#e0a858" fill-opacity="0.75"/>
<circle cx="407.00" cy="480.87" r="2.3" fill="#e0a858" fill-opacity="0.75"/>
<circle cx="407.00" cy="477.55" r="2.3" fill="#e0a858" fill-opacity="0.75"/>
<circle cx="430.20" cy="467.05" r="2.3" fill="#e0a858" fill-opacity="0.75"/>
<circle cx="430.20" cy="468.16" r="2.3" fill="#e0a858" fill-opacity="0.75"/>
<circle cx="453.40" cy="454.90" r="2.3" fill="#e0a858" fill-opacity="0.75"/>
<circle cx="453.40" cy="456.00" r="2.3" fill="#e0a858" fill-opacity="0.75"/>
<circle cx="476.60" cy="443.29" r="2.3" fill="#e0a858" fill-opacity="0.75"/>
<circle cx="476.60" cy="444.95" r="2.3" fill="#e0a858" fill-opacity="0.75"/>
<circle cx="383.80" cy="488.05" r="2.3" fill="#9dbbe0" fill-opacity="0.75"/>
<circle cx="383.80" cy="489.70" r="2.3" fill="#9dbbe0" fill-opacity="0.75"/>
<circle cx="407.00" cy="478.10" r="2.3" fill="#9dbbe0" fill-opacity="0.75"/>
<circle cx="407.00" cy="479.76" r="2.3" fill="#9dbbe0" fill-opacity="0.75"/>
<circle cx="430.20" cy="468.16" r="2.3" fill="#9dbbe0" fill-opacity="0.75"/>
<circle cx="430.20" cy="468.71" r="2.3" fill="#9dbbe0" fill-opacity="0.75"/>
<circle cx="453.40" cy="457.66" r="2.3" fill="#9dbbe0" fill-opacity="0.75"/>
<circle cx="453.40" cy="458.21" r="2.3" fill="#9dbbe0" fill-opacity="0.75"/>
<circle cx="476.60" cy="447.71" r="2.3" fill="#9dbbe0" fill-opacity="0.75"/>
<circle cx="476.60" cy="449.37" r="2.3" fill="#9dbbe0" fill-opacity="0.75"/>
<circle cx="360.60" cy="499.65" r="2.4" fill="#8f9590"/>
<path d="M360.60,499.65 L383.80,489.70 L407.00,478.65 L430.20,467.05 L453.40,455.45 L476.60,444.07" fill="none" stroke="#cf8a22" stroke-width="1.3"/>
<path d="M360.60,499.65 L383.80,489.15 L407.00,479.21 L430.20,468.16 L453.40,457.66 L476.60,447.71" fill="none" stroke="#6f9bcc" stroke-width="1.3"/>
<line x1="407.00" y1="428.20" x2="407.00" y2="445.5" stroke="#333" stroke-width="0.8" stroke-dasharray="1.2,1.2"/>
<text x="384.10" y="438.60" font-size="8.2" text-anchor="middle" font-weight="normal" font-style="normal" fill="#222" >n=4</text>
<text x="430.50" y="438.60" font-size="8.2" text-anchor="middle" font-weight="normal" font-style="normal" fill="#222" >n=2</text>
<rect x="355.00" y="428.20" width="127.30" height="98.00" fill="none" stroke="#cdcdcd" stroke-width="1"/>
<line x1="360.60" y1="526.20" x2="360.60" y2="528.40" stroke="#a8a8a8" stroke-width="0.7"/>
<text x="360.60" y="537.20" font-size="10.3" text-anchor="middle" font-weight="normal" font-style="normal" fill="#1a1a1a" >0</text>
<line x1="383.80" y1="526.20" x2="383.80" y2="528.40" stroke="#a8a8a8" stroke-width="0.7"/>
<text x="383.80" y="537.20" font-size="10.3" text-anchor="middle" font-weight="normal" font-style="normal" fill="#1a1a1a" >2</text>
<line x1="407.00" y1="526.20" x2="407.00" y2="528.40" stroke="#a8a8a8" stroke-width="0.7"/>
<text x="407.00" y="537.20" font-size="10.3" text-anchor="middle" font-weight="normal" font-style="normal" fill="#1a1a1a" >4</text>
<line x1="430.20" y1="526.20" x2="430.20" y2="528.40" stroke="#a8a8a8" stroke-width="0.7"/>
<text x="430.20" y="537.20" font-size="10.3" text-anchor="middle" font-weight="normal" font-style="normal" fill="#1a1a1a" >6</text>
<line x1="453.40" y1="526.20" x2="453.40" y2="528.40" stroke="#a8a8a8" stroke-width="0.7"/>
<text x="453.40" y="537.20" font-size="10.3" text-anchor="middle" font-weight="normal" font-style="normal" fill="#1a1a1a" >8</text>
<line x1="476.60" y1="526.20" x2="476.60" y2="528.40" stroke="#a8a8a8" stroke-width="0.7"/>
<text x="476.60" y="537.20" font-size="10.3" text-anchor="middle" font-weight="normal" font-style="normal" fill="#1a1a1a" >10</text>
<line x1="485.30" y1="510.70" x2="612.60" y2="510.70" stroke="#f1efe8" stroke-width="0.6"/>
<line x1="485.30" y1="488.60" x2="612.60" y2="488.60" stroke="#f1efe8" stroke-width="0.6"/>
<line x1="485.30" y1="466.50" x2="612.60" y2="466.50" stroke="#f1efe8" stroke-width="0.6"/>
<line x1="485.30" y1="444.40" x2="612.60" y2="444.40" stroke="#f1efe8" stroke-width="0.6"/>
<line x1="485.30" y1="499.65" x2="612.60" y2="499.65" stroke="#f7f6f2" stroke-width="0.4"/>
<line x1="485.30" y1="477.55" x2="612.60" y2="477.55" stroke="#f7f6f2" stroke-width="0.4"/>
<line x1="485.30" y1="455.45" x2="612.60" y2="455.45" stroke="#f7f6f2" stroke-width="0.4"/>
<line x1="490.90" y1="428.20" x2="490.90" y2="526.20" stroke="#f1efe8" stroke-width="0.6" />
<line x1="514.10" y1="428.20" x2="514.10" y2="526.20" stroke="#f1efe8" stroke-width="0.6" />
<line x1="537.30" y1="428.20" x2="537.30" y2="526.20" stroke="#f1efe8" stroke-width="0.6" />
<line x1="560.50" y1="428.20" x2="560.50" y2="526.20" stroke="#f1efe8" stroke-width="0.6" />
<line x1="583.70" y1="428.20" x2="583.70" y2="526.20" stroke="#f1efe8" stroke-width="0.6" />
<line x1="606.90" y1="428.20" x2="606.90" y2="526.20" stroke="#f1efe8" stroke-width="0.6" />
<line x1="502.50" y1="428.20" x2="502.50" y2="526.20" stroke="#f7f6f2" stroke-width="0.4" />
<line x1="525.70" y1="428.20" x2="525.70" y2="526.20" stroke="#f7f6f2" stroke-width="0.4" />
<line x1="548.90" y1="428.20" x2="548.90" y2="526.20" stroke="#f7f6f2" stroke-width="0.4" />
<line x1="572.10" y1="428.20" x2="572.10" y2="526.20" stroke="#f7f6f2" stroke-width="0.4" />
<line x1="595.30" y1="428.20" x2="595.30" y2="526.20" stroke="#f7f6f2" stroke-width="0.4" />
<circle cx="514.10" cy="491.91" r="2.3" fill="#e0a858" fill-opacity="0.75"/>
<circle cx="514.10" cy="490.26" r="2.3" fill="#e0a858" fill-opacity="0.75"/>
<circle cx="537.30" cy="484.18" r="2.3" fill="#e0a858" fill-opacity="0.75"/>
<circle cx="537.30" cy="481.97" r="2.3" fill="#e0a858" fill-opacity="0.75"/>
<circle cx="537.30" cy="483.07" r="2.3" fill="#e0a858" fill-opacity="0.75"/>
<circle cx="560.50" cy="473.13" r="2.3" fill="#e0a858" fill-opacity="0.75"/>
<circle cx="560.50" cy="470.92" r="2.3" fill="#e0a858" fill-opacity="0.75"/>
<circle cx="583.70" cy="464.84" r="2.3" fill="#e0a858" fill-opacity="0.75"/>
<circle cx="583.70" cy="465.39" r="2.3" fill="#e0a858" fill-opacity="0.75"/>
<circle cx="606.90" cy="455.45" r="2.3" fill="#e0a858" fill-opacity="0.75"/>
<circle cx="606.90" cy="453.79" r="2.3" fill="#e0a858" fill-opacity="0.75"/>
<circle cx="514.10" cy="494.12" r="2.3" fill="#9dbbe0" fill-opacity="0.75"/>
<circle cx="514.10" cy="492.47" r="2.3" fill="#9dbbe0" fill-opacity="0.75"/>
<circle cx="537.30" cy="499.65" r="2.3" fill="#9dbbe0" fill-opacity="0.75"/>
<circle cx="537.30" cy="496.33" r="2.3" fill="#9dbbe0" fill-opacity="0.75"/>
<circle cx="537.30" cy="494.12" r="2.3" fill="#9dbbe0" fill-opacity="0.75"/>
<circle cx="537.30" cy="491.91" r="2.3" fill="#9dbbe0" fill-opacity="0.75"/>
<circle cx="560.50" cy="502.96" r="2.3" fill="#9dbbe0" fill-opacity="0.75"/>
<circle cx="560.50" cy="499.65" r="2.3" fill="#9dbbe0" fill-opacity="0.75"/>
<circle cx="583.70" cy="512.91" r="2.3" fill="#9dbbe0" fill-opacity="0.75"/>
<circle cx="583.70" cy="507.38" r="2.3" fill="#9dbbe0" fill-opacity="0.75"/>
<circle cx="490.90" cy="499.65" r="2.4" fill="#8f9590"/>
<path d="M490.90,499.65 L514.10,491.14 L537.30,483.07 L560.50,472.47 L583.70,464.95 L606.90,454.46" fill="none" stroke="#cf8a22" stroke-width="1.3"/>
<path d="M490.90,499.65 L514.10,493.24 L537.30,497.44 L560.50,502.96 L583.70,510.70" fill="none" stroke="#6f9bcc" stroke-width="1.3"/>
<line x1="537.30" y1="428.20" x2="537.30" y2="445.5" stroke="#333" stroke-width="0.8" stroke-dasharray="1.2,1.2"/>
<text x="514.40" y="438.60" font-size="8.2" text-anchor="middle" font-weight="normal" font-style="normal" fill="#222" >n=5</text>
<text x="562.40" y="438.60" font-size="8.2" text-anchor="middle" font-weight="normal" font-style="normal" fill="#222" >n=2</text>
<rect x="485.30" y="428.20" width="127.30" height="98.00" fill="none" stroke="#cdcdcd" stroke-width="1"/>
<line x1="490.90" y1="526.20" x2="490.90" y2="528.40" stroke="#a8a8a8" stroke-width="0.7"/>
<text x="490.90" y="537.20" font-size="10.3" text-anchor="middle" font-weight="normal" font-style="normal" fill="#1a1a1a" >0</text>
<line x1="514.10" y1="526.20" x2="514.10" y2="528.40" stroke="#a8a8a8" stroke-width="0.7"/>
<text x="514.10" y="537.20" font-size="10.3" text-anchor="middle" font-weight="normal" font-style="normal" fill="#1a1a1a" >2</text>
<line x1="537.30" y1="526.20" x2="537.30" y2="528.40" stroke="#a8a8a8" stroke-width="0.7"/>
<text x="537.30" y="537.20" font-size="10.3" text-anchor="middle" font-weight="normal" font-style="normal" fill="#1a1a1a" >4</text>
<line x1="560.50" y1="526.20" x2="560.50" y2="528.40" stroke="#a8a8a8" stroke-width="0.7"/>
<text x="560.50" y="537.20" font-size="10.3" text-anchor="middle" font-weight="normal" font-style="normal" fill="#1a1a1a" >6</text>
<line x1="583.70" y1="526.20" x2="583.70" y2="528.40" stroke="#a8a8a8" stroke-width="0.7"/>
<text x="583.70" y="537.20" font-size="10.3" text-anchor="middle" font-weight="normal" font-style="normal" fill="#1a1a1a" >8</text>
<line x1="606.90" y1="526.20" x2="606.90" y2="528.40" stroke="#a8a8a8" stroke-width="0.7"/>
<text x="606.90" y="537.20" font-size="10.3" text-anchor="middle" font-weight="normal" font-style="normal" fill="#1a1a1a" >10</text>
<line x1="615.60" y1="510.70" x2="742.30" y2="510.70" stroke="#f1efe8" stroke-width="0.6"/>
<line x1="615.60" y1="488.60" x2="742.30" y2="488.60" stroke="#f1efe8" stroke-width="0.6"/>
<line x1="615.60" y1="466.50" x2="742.30" y2="466.50" stroke="#f1efe8" stroke-width="0.6"/>
<line x1="615.60" y1="444.40" x2="742.30" y2="444.40" stroke="#f1efe8" stroke-width="0.6"/>
<line x1="615.60" y1="499.65" x2="742.30" y2="499.65" stroke="#f7f6f2" stroke-width="0.4"/>
<line x1="615.60" y1="477.55" x2="742.30" y2="477.55" stroke="#f7f6f2" stroke-width="0.4"/>
<line x1="615.60" y1="455.45" x2="742.30" y2="455.45" stroke="#f7f6f2" stroke-width="0.4"/>
<line x1="621.20" y1="428.20" x2="621.20" y2="526.20" stroke="#f1efe8" stroke-width="0.6" />
<line x1="644.40" y1="428.20" x2="644.40" y2="526.20" stroke="#f1efe8" stroke-width="0.6" />
<line x1="667.60" y1="428.20" x2="667.60" y2="526.20" stroke="#f1efe8" stroke-width="0.6" />
<line x1="690.80" y1="428.20" x2="690.80" y2="526.20" stroke="#f1efe8" stroke-width="0.6" />
<line x1="714.00" y1="428.20" x2="714.00" y2="526.20" stroke="#f1efe8" stroke-width="0.6" />
<line x1="737.20" y1="428.20" x2="737.20" y2="526.20" stroke="#f1efe8" stroke-width="0.6" />
<line x1="632.80" y1="428.20" x2="632.80" y2="526.20" stroke="#f7f6f2" stroke-width="0.4" />
<line x1="656.00" y1="428.20" x2="656.00" y2="526.20" stroke="#f7f6f2" stroke-width="0.4" />
<line x1="679.20" y1="428.20" x2="679.20" y2="526.20" stroke="#f7f6f2" stroke-width="0.4" />
<line x1="702.40" y1="428.20" x2="702.40" y2="526.20" stroke="#f7f6f2" stroke-width="0.4" />
<line x1="725.60" y1="428.20" x2="725.60" y2="526.20" stroke="#f7f6f2" stroke-width="0.4" />
<circle cx="644.40" cy="490.26" r="2.3" fill="#e0a858" fill-opacity="0.75"/>
<circle cx="644.40" cy="489.15" r="2.3" fill="#e0a858" fill-opacity="0.75"/>
<circle cx="667.60" cy="480.31" r="2.3" fill="#e0a858" fill-opacity="0.75"/>
<circle cx="667.60" cy="477.55" r="2.3" fill="#e0a858" fill-opacity="0.75"/>
<circle cx="690.80" cy="470.37" r="2.3" fill="#e0a858" fill-opacity="0.75"/>
<circle cx="690.80" cy="467.05" r="2.3" fill="#e0a858" fill-opacity="0.75"/>
<circle cx="714.00" cy="460.97" r="2.3" fill="#e0a858" fill-opacity="0.75"/>
<circle cx="714.00" cy="458.21" r="2.3" fill="#e0a858" fill-opacity="0.75"/>
<circle cx="737.20" cy="453.24" r="2.3" fill="#e0a858" fill-opacity="0.75"/>
<circle cx="737.20" cy="449.37" r="2.3" fill="#e0a858" fill-opacity="0.75"/>
<circle cx="644.40" cy="488.60" r="2.3" fill="#9dbbe0" fill-opacity="0.75"/>
<circle cx="644.40" cy="486.39" r="2.3" fill="#9dbbe0" fill-opacity="0.75"/>
<circle cx="667.60" cy="479.76" r="2.3" fill="#9dbbe0" fill-opacity="0.75"/>
<circle cx="667.60" cy="478.10" r="2.3" fill="#9dbbe0" fill-opacity="0.75"/>
<circle cx="690.80" cy="473.13" r="2.3" fill="#9dbbe0" fill-opacity="0.75"/>
<circle cx="690.80" cy="472.02" r="2.3" fill="#9dbbe0" fill-opacity="0.75"/>
<circle cx="714.00" cy="465.39" r="2.3" fill="#9dbbe0" fill-opacity="0.75"/>
<circle cx="714.00" cy="462.08" r="2.3" fill="#9dbbe0" fill-opacity="0.75"/>
<circle cx="737.20" cy="456.55" r="2.3" fill="#9dbbe0" fill-opacity="0.75"/>
<circle cx="737.20" cy="453.24" r="2.3" fill="#9dbbe0" fill-opacity="0.75"/>
<circle cx="621.20" cy="499.65" r="2.4" fill="#8f9590"/>
<path d="M621.20,499.65 L644.40,489.04 L667.60,478.99 L690.80,468.93 L714.00,459.65 L737.20,451.47" fill="none" stroke="#cf8a22" stroke-width="1.3"/>
<path d="M621.20,499.65 L644.40,488.60 L667.60,478.99 L690.80,472.47 L714.00,462.85 L737.20,454.46" fill="none" stroke="#6f9bcc" stroke-width="1.3"/>
<line x1="667.60" y1="428.20" x2="667.60" y2="445.5" stroke="#333" stroke-width="0.8" stroke-dasharray="1.2,1.2"/>
<text x="644.70" y="438.60" font-size="8.2" text-anchor="middle" font-weight="normal" font-style="normal" fill="#222" >n=3</text>
<text x="691.10" y="438.60" font-size="8.2" text-anchor="middle" font-weight="normal" font-style="normal" fill="#222" >n=2</text>
<rect x="615.60" y="428.20" width="126.70" height="98.00" fill="none" stroke="#cdcdcd" stroke-width="1"/>
<line x1="621.20" y1="526.20" x2="621.20" y2="528.40" stroke="#a8a8a8" stroke-width="0.7"/>
<text x="621.20" y="537.20" font-size="10.3" text-anchor="middle" font-weight="normal" font-style="normal" fill="#1a1a1a" >0</text>
<line x1="644.40" y1="526.20" x2="644.40" y2="528.40" stroke="#a8a8a8" stroke-width="0.7"/>
<text x="644.40" y="537.20" font-size="10.3" text-anchor="middle" font-weight="normal" font-style="normal" fill="#1a1a1a" >2</text>
<line x1="667.60" y1="526.20" x2="667.60" y2="528.40" stroke="#a8a8a8" stroke-width="0.7"/>
<text x="667.60" y="537.20" font-size="10.3" text-anchor="middle" font-weight="normal" font-style="normal" fill="#1a1a1a" >4</text>
<line x1="690.80" y1="526.20" x2="690.80" y2="528.40" stroke="#a8a8a8" stroke-width="0.7"/>
<text x="690.80" y="537.20" font-size="10.3" text-anchor="middle" font-weight="normal" font-style="normal" fill="#1a1a1a" >6</text>
<line x1="714.00" y1="526.20" x2="714.00" y2="528.40" stroke="#a8a8a8" stroke-width="0.7"/>
<text x="714.00" y="537.20" font-size="10.3" text-anchor="middle" font-weight="normal" font-style="normal" fill="#1a1a1a" >8</text>
<line x1="737.20" y1="526.20" x2="737.20" y2="528.40" stroke="#a8a8a8" stroke-width="0.7"/>
<text x="737.20" y="537.20" font-size="10.3" text-anchor="middle" font-weight="normal" font-style="normal" fill="#1a1a1a" >10</text>
<line x1="352.80" y1="510.70" x2="355.00" y2="510.70" stroke="#a8a8a8" stroke-width="0.7"/>
<text x="351.80" y="514.30" font-size="10.3" text-anchor="end" font-weight="normal" font-style="normal" fill="#1a1a1a" >1e+02</text>
<line x1="352.80" y1="488.60" x2="355.00" y2="488.60" stroke="#a8a8a8" stroke-width="0.7"/>
<text x="351.80" y="492.20" font-size="10.3" text-anchor="end" font-weight="normal" font-style="normal" fill="#1a1a1a" >1e+04</text>
<line x1="352.80" y1="466.50" x2="355.00" y2="466.50" stroke="#a8a8a8" stroke-width="0.7"/>
<text x="351.80" y="470.11" font-size="10.3" text-anchor="end" font-weight="normal" font-style="normal" fill="#1a1a1a" >1e+06</text>
<line x1="352.80" y1="444.40" x2="355.00" y2="444.40" stroke="#a8a8a8" stroke-width="0.7"/>
<text x="351.80" y="448.00" font-size="10.3" text-anchor="end" font-weight="normal" font-style="normal" fill="#1a1a1a" >1e+08</text>
<text x="395.3" y="423.7" font-size="10" font-weight="bold" font-style="italic">Nanog<tspan font-size="6" dy="-3.6">WT</tspan></text>
<text x="551.2" y="423.7" font-size="10.3" font-weight="bold" font-style="italic" text-anchor="middle">Nanog<tspan font-size="6" dy="-3.6">&#8722;/&#8722;</tspan></text>
<text x="682.2" y="423.7" font-size="10.3" font-weight="bold" font-style="italic" text-anchor="middle">Nanog<tspan font-size="6" dy="-3.6">&#8722;/&#8722;</tspan><tspan dy="3.6" font-style="normal"> rescue</tspan></text>
<text x="544.75" y="547.70" font-size="9.45" text-anchor="middle" font-weight="bold" font-style="normal" fill="#000" >Time [d]</text>
<text transform="translate(321.80,477.50) rotate(-90)" font-size="10.3" text-anchor="middle" font-weight="bold" fill="#000">Cell counts</text>
<rect x="479.60" y="398.70" width="6.4" height="6.6" fill="#fff" stroke="#ccc" stroke-width="0.5"/>
<line x1="479.80" y1="402.00" x2="485.80" y2="402.00" stroke="#cf8a22" stroke-width="1.2"/>
<circle cx="482.80" cy="402.00" r="1.9" fill="#cf8a22" fill-opacity="0.85"/>
<text x="487.40" y="405.50" font-size="10.3" text-anchor="start" font-weight="normal" font-style="normal" fill="#222" >SerumLIF</text>
<rect x="538.70" y="398.70" width="6.4" height="6.6" fill="#fff" stroke="#ccc" stroke-width="0.5"/>
<line x1="538.90" y1="402.00" x2="544.90" y2="402.00" stroke="#6f9bcc" stroke-width="1.2"/>
<circle cx="541.90" cy="402.00" r="1.9" fill="#6f9bcc" fill-opacity="0.85"/>
<text x="546.50" y="405.50" font-size="10.3" text-anchor="start" font-weight="normal" font-style="normal" fill="#222" >SerumLIF+2i</text>
<line x1="352.40" y1="690.60" x2="541.40" y2="690.60" stroke="#f1efe8" stroke-width="0.6"/>
<line x1="352.40" y1="665.68" x2="541.40" y2="665.68" stroke="#f1efe8" stroke-width="0.6"/>
<line x1="352.40" y1="640.75" x2="541.40" y2="640.75" stroke="#f1efe8" stroke-width="0.6"/>
<line x1="352.40" y1="615.83" x2="541.40" y2="615.83" stroke="#f1efe8" stroke-width="0.6"/>
<line x1="352.40" y1="590.90" x2="541.40" y2="590.90" stroke="#f1efe8" stroke-width="0.6"/>
<line x1="394.50" y1="586.00" x2="394.50" y2="695.10" stroke="#f1efe8" stroke-width="0.6" />
<line x1="417.00" y1="586.00" x2="417.00" y2="695.10" stroke="#f1efe8" stroke-width="0.6" />
<line x1="455.20" y1="586.00" x2="455.20" y2="695.10" stroke="#f1efe8" stroke-width="0.6" />
<line x1="487.80" y1="586.00" x2="487.80" y2="695.10" stroke="#f1efe8" stroke-width="0.6" />
<line x1="527.30" y1="586.00" x2="527.30" y2="695.10" stroke="#f1efe8" stroke-width="0.6" />
<line x1="548.00" y1="690.60" x2="737.50" y2="690.60" stroke="#f1efe8" stroke-width="0.6"/>
<line x1="548.00" y1="665.68" x2="737.50" y2="665.68" stroke="#f1efe8" stroke-width="0.6"/>
<line x1="548.00" y1="640.75" x2="737.50" y2="640.75" stroke="#f1efe8" stroke-width="0.6"/>
<line x1="548.00" y1="615.83" x2="737.50" y2="615.83" stroke="#f1efe8" stroke-width="0.6"/>
<line x1="548.00" y1="590.90" x2="737.50" y2="590.90" stroke="#f1efe8" stroke-width="0.6"/>
<line x1="590.00" y1="586.00" x2="590.00" y2="695.10" stroke="#f1efe8" stroke-width="0.6" />
<line x1="613.10" y1="586.00" x2="613.10" y2="695.10" stroke="#f1efe8" stroke-width="0.6" />
<line x1="650.50" y1="586.00" x2="650.50" y2="695.10" stroke="#f1efe8" stroke-width="0.6" />
<line x1="687.40" y1="586.00" x2="687.40" y2="695.10" stroke="#f1efe8" stroke-width="0.6" />
<line x1="722.50" y1="586.00" x2="722.50" y2="695.10" stroke="#f1efe8" stroke-width="0.6" />
<path d="M360.60,690.60 C361.17,690.40 362.77,689.82 364.00,689.40 C365.23,688.99 366.58,688.41 368.00,688.11 C369.42,687.81 371.00,687.53 372.50,687.61 C374.00,687.69 375.25,688.24 377.00,688.61 C378.75,688.97 381.50,689.67 383.00,689.80 C384.50,689.94 384.50,689.60 386.00,689.40 C387.50,689.20 390.00,689.07 392.00,688.61 C394.00,688.14 396.00,687.61 398.00,686.61 C400.00,685.62 401.95,684.29 404.00,682.62 C406.05,680.96 408.23,677.89 410.30,676.64 C412.37,675.40 414.45,675.15 416.40,675.15 C418.35,675.15 419.98,676.06 422.00,676.64 C424.02,677.22 426.67,677.64 428.50,678.64 C430.33,679.63 431.48,681.29 433.00,682.62 C434.52,683.95 435.93,685.78 437.60,686.61 C439.27,687.44 441.43,687.78 443.00,687.61 C444.57,687.44 445.37,686.11 447.00,685.62 C448.63,685.12 450.97,684.78 452.80,684.62 C454.63,684.45 456.47,684.95 458.00,684.62 C459.53,684.29 460.67,683.62 462.00,682.62 C463.33,681.63 464.50,680.13 466.00,678.64 C467.50,677.14 469.33,675.15 471.00,673.65 C472.67,672.16 474.47,671.32 476.00,669.66 C477.53,668.00 478.87,666.51 480.20,663.68 C481.53,660.86 482.87,656.54 484.00,652.71 C485.13,648.89 486.12,644.41 487.00,640.75 C487.88,637.09 488.47,634.93 489.30,630.78 C490.13,626.63 490.88,620.81 492.00,615.83 C493.12,610.84 494.92,604.53 496.00,600.87 C497.08,597.21 497.60,595.55 498.50,593.89 C499.40,592.23 500.48,590.90 501.40,590.90 C502.32,590.90 503.07,591.90 504.00,593.89 C504.93,595.89 505.92,598.71 507.00,602.86 C508.08,607.02 509.33,612.50 510.50,618.82 C511.67,625.13 512.92,634.27 514.00,640.75 C515.08,647.23 516.05,653.05 517.00,657.70 C517.95,662.35 518.70,664.84 519.70,668.67 C520.70,672.49 521.95,677.64 523.00,680.63 C524.05,683.62 525.03,685.20 526.00,686.61 C526.97,688.02 527.58,688.44 528.80,689.10 C530.02,689.77 532.10,690.35 533.30,690.60 C534.50,690.85 535.55,690.60 536.00,690.60" fill="none" stroke="#6b9bcf" stroke-width="1.1" stroke-linejoin="round"/>
<path d="M360.60,690.60 C364.67,690.60 379.43,690.63 385.00,690.60 C390.57,690.57 391.83,690.50 394.00,690.40 C396.17,690.30 396.67,690.27 398.00,690.00 C399.33,689.74 400.83,689.54 402.00,688.81 C403.17,688.07 404.00,687.48 405.00,685.62 C406.00,683.75 407.03,680.96 408.00,677.64 C408.97,674.32 409.97,669.16 410.80,665.68 C411.63,662.19 412.07,660.03 413.00,656.70 C413.93,653.38 415.40,649.56 416.40,645.74 C417.40,641.91 418.07,637.59 419.00,633.77 C419.93,629.95 420.92,625.79 422.00,622.80 C423.08,619.81 424.17,617.49 425.50,615.83 C426.83,614.16 427.98,613.66 430.00,612.83 C432.02,612.00 435.10,612.34 437.60,610.84 C440.10,609.34 442.47,605.94 445.00,603.86 C447.53,601.78 450.63,599.21 452.80,598.38 C454.97,597.55 455.97,598.29 458.00,598.88 C460.03,599.46 462.83,601.29 465.00,601.87 C467.17,602.45 469.00,602.86 471.00,602.37 C473.00,601.87 475.17,600.29 477.00,598.88 C478.83,597.46 480.20,595.22 482.00,593.89 C483.80,592.56 485.97,590.07 487.80,590.90 C489.63,591.73 491.30,594.72 493.00,598.88 C494.70,603.03 496.08,608.18 498.00,615.83 C499.92,623.47 502.50,636.26 504.50,644.74 C506.50,653.21 507.98,660.36 510.00,666.67 C512.02,672.99 514.60,678.97 516.60,682.62 C518.60,686.28 519.97,687.31 522.00,688.61 C524.03,689.90 526.47,690.07 528.80,690.40 C531.13,690.73 534.80,690.57 536.00,690.60" fill="none" stroke="#111" stroke-width="1.1" stroke-linejoin="round"/>
<path d="M360.60,690.60 C366.50,690.60 389.27,690.67 396.00,690.60 C402.73,690.53 399.58,690.40 401.00,690.20 C402.42,690.00 403.42,689.92 404.50,689.40 C405.58,688.89 406.50,688.24 407.50,687.11 C408.50,685.98 409.50,684.37 410.50,682.62 C411.50,680.88 412.50,678.64 413.50,676.64 C414.50,674.65 415.50,672.49 416.50,670.66 C417.50,668.83 418.42,667.00 419.50,665.68 C420.58,664.35 421.37,663.85 423.00,662.68 C424.63,661.52 427.55,660.52 429.30,658.70 C431.05,656.87 432.12,654.71 433.50,651.72 C434.88,648.73 436.02,644.90 437.60,640.75 C439.18,636.60 440.97,630.95 443.00,626.79 C445.03,622.64 447.63,618.15 449.80,615.83 C451.97,613.50 453.97,613.50 456.00,612.83 C458.03,612.17 460.00,612.34 462.00,611.84 C464.00,611.34 466.00,610.84 468.00,609.84 C470.00,608.85 471.97,607.68 474.00,605.86 C476.03,604.03 478.53,600.87 480.20,598.88 C481.87,596.88 482.73,595.22 484.00,593.89 C485.27,592.56 486.63,590.90 487.80,590.90 C488.97,590.90 489.80,591.40 491.00,593.89 C492.20,596.38 493.67,600.70 495.00,605.86 C496.33,611.01 497.42,617.99 499.00,624.80 C500.58,631.61 502.67,639.42 504.50,646.73 C506.33,654.04 507.98,662.52 510.00,668.67 C512.02,674.81 514.60,680.21 516.60,683.62 C518.60,687.03 519.97,687.97 522.00,689.10 C524.03,690.23 526.47,690.15 528.80,690.40 C531.13,690.65 534.80,690.57 536.00,690.60" fill="none" stroke="#3e8a3a" stroke-width="1.1" stroke-linejoin="round"/>
<path d="M554.50,690.60 C557.08,690.60 566.42,690.77 570.00,690.60 C573.58,690.43 574.17,689.94 576.00,689.60 C577.83,689.27 579.33,689.19 581.00,688.61 C582.67,688.02 584.50,686.61 586.00,686.11 C587.50,685.62 588.33,685.62 590.00,685.62 C591.67,685.62 594.00,686.11 596.00,686.11 C598.00,686.11 600.00,686.03 602.00,685.62 C604.00,685.20 606.17,683.54 608.00,683.62 C609.83,683.70 611.50,685.45 613.00,686.11 C614.50,686.78 615.50,687.53 617.00,687.61 C618.50,687.69 620.17,687.11 622.00,686.61 C623.83,686.11 625.83,685.62 628.00,684.62 C630.17,683.62 633.00,681.13 635.00,680.63 C637.00,680.13 638.50,681.13 640.00,681.63 C641.50,682.13 642.67,683.62 644.00,683.62 C645.33,683.62 646.67,683.29 648.00,681.63 C649.33,679.97 650.67,676.97 652.00,673.65 C653.33,670.33 654.67,665.84 656.00,661.69 C657.33,657.53 658.67,653.05 660.00,648.73 C661.33,644.41 662.67,639.75 664.00,635.76 C665.33,631.78 666.67,627.96 668.00,624.80 C669.33,621.64 670.50,619.48 672.00,616.82 C673.50,614.16 675.67,611.50 677.00,608.85 C678.33,606.19 679.00,603.86 680.00,600.87 C681.00,597.88 682.08,591.90 683.00,590.90 C683.92,589.90 684.67,592.56 685.50,594.89 C686.33,597.21 686.92,600.70 688.00,604.86 C689.08,609.01 690.67,613.83 692.00,619.81 C693.33,625.79 694.50,633.27 696.00,640.75 C697.50,648.23 699.50,658.36 701.00,664.68 C702.50,670.99 703.67,675.15 705.00,678.64 C706.33,682.13 707.67,683.87 709.00,685.62 C710.33,687.36 711.50,688.27 713.00,689.10 C714.50,689.94 715.00,690.35 718.00,690.60 C721.00,690.85 728.83,690.60 731.00,690.60" fill="none" stroke="#6b9bcf" stroke-width="1.1" stroke-linejoin="round"/>
<path d="M554.50,690.60 C557.92,690.60 570.42,690.77 575.00,690.60 C579.58,690.43 579.50,690.10 582.00,689.60 C584.50,689.10 587.67,688.52 590.00,687.61 C592.33,686.70 594.00,685.45 596.00,684.12 C598.00,682.79 600.00,681.21 602.00,679.63 C604.00,678.05 606.00,676.64 608.00,674.65 C610.00,672.65 612.17,670.33 614.00,667.67 C615.83,665.01 617.50,661.69 619.00,658.70 C620.50,655.71 621.83,652.71 623.00,649.72 C624.17,646.73 625.00,643.74 626.00,640.75 C627.00,637.76 628.00,634.60 629.00,631.78 C630.00,628.95 631.00,625.80 632.00,623.80 C633.00,621.81 634.00,620.48 635.00,619.81 C636.00,619.15 637.00,619.31 638.00,619.81 C639.00,620.31 639.77,621.81 641.00,622.80 C642.23,623.80 644.07,625.46 645.40,625.80 C646.73,626.13 647.73,625.80 649.00,624.80 C650.27,623.80 651.67,621.64 653.00,619.81 C654.33,617.99 655.50,615.99 657.00,613.83 C658.50,611.67 660.33,609.34 662.00,606.85 C663.67,604.36 665.33,601.20 667.00,598.88 C668.67,596.55 670.33,594.22 672.00,592.89 C673.67,591.56 675.33,591.07 677.00,590.90 C678.67,590.73 680.33,590.73 682.00,591.90 C683.67,593.06 685.33,594.56 687.00,597.88 C688.67,601.20 690.17,605.52 692.00,611.84 C693.83,618.15 696.17,628.12 698.00,635.76 C699.83,643.41 701.50,651.55 703.00,657.70 C704.50,663.85 705.83,668.83 707.00,672.65 C708.17,676.48 708.67,678.14 710.00,680.63 C711.33,683.12 713.00,686.00 715.00,687.61 C717.00,689.22 719.33,689.80 722.00,690.30 C724.67,690.80 729.50,690.55 731.00,690.60" fill="none" stroke="#111" stroke-width="1.1" stroke-linejoin="round"/>
<path d="M554.50,690.60 C559.08,690.60 576.08,690.77 582.00,690.60 C587.92,690.43 587.50,690.10 590.00,689.60 C592.50,689.10 594.50,688.27 597.00,687.61 C599.50,686.94 602.50,687.11 605.00,685.62 C607.50,684.12 609.50,681.63 612.00,678.64 C614.50,675.64 617.50,671.16 620.00,667.67 C622.50,664.18 624.50,661.69 627.00,657.70 C629.50,653.71 632.67,647.06 635.00,643.74 C637.33,640.42 639.00,639.25 641.00,637.76 C643.00,636.26 645.17,636.26 647.00,634.77 C648.83,633.27 650.33,631.44 652.00,628.79 C653.67,626.13 655.33,622.14 657.00,618.82 C658.67,615.49 660.33,612.00 662.00,608.85 C663.67,605.69 665.33,602.37 667.00,599.87 C668.67,597.38 670.33,595.39 672.00,593.89 C673.67,592.40 675.33,591.23 677.00,590.90 C678.67,590.57 680.33,590.73 682.00,591.90 C683.67,593.06 685.33,594.56 687.00,597.88 C688.67,601.20 690.17,605.52 692.00,611.84 C693.83,618.15 696.17,628.12 698.00,635.76 C699.83,643.41 701.50,651.55 703.00,657.70 C704.50,663.85 705.83,668.83 707.00,672.65 C708.17,676.48 708.67,678.14 710.00,680.63 C711.33,683.12 713.00,686.00 715.00,687.61 C717.00,689.22 719.33,689.80 722.00,690.30 C724.67,690.80 729.50,690.55 731.00,690.60" fill="none" stroke="#3e8a3a" stroke-width="1.1" stroke-linejoin="round"/>
<line x1="360.6" y1="690.60" x2="536" y2="690.60" stroke="#3e8a3a" stroke-width="1.2"/>
<line x1="554.5" y1="690.60" x2="731" y2="690.60" stroke="#3e8a3a" stroke-width="1.2"/>
<rect x="352.40" y="586.00" width="189.00" height="109.10" fill="none" stroke="#cdcdcd" stroke-width="1"/>
<line x1="394.50" y1="695.10" x2="394.50" y2="697.30" stroke="#a8a8a8" stroke-width="0.7"/>
<text x="394.50" y="705.80" font-size="10.3" text-anchor="middle" font-weight="normal" font-style="normal" fill="#1a1a1a" >0</text>
<line x1="417.00" y1="695.10" x2="417.00" y2="697.30" stroke="#a8a8a8" stroke-width="0.7"/>
<text x="417.00" y="705.80" font-size="10.3" text-anchor="middle" font-weight="normal" font-style="normal" fill="#1a1a1a" >1</text>
<line x1="455.20" y1="695.10" x2="455.20" y2="697.30" stroke="#a8a8a8" stroke-width="0.7"/>
<text x="455.20" y="705.80" font-size="10.3" text-anchor="middle" font-weight="normal" font-style="normal" fill="#1a1a1a" >5</text>
<line x1="487.80" y1="695.10" x2="487.80" y2="697.30" stroke="#a8a8a8" stroke-width="0.7"/>
<text x="487.80" y="705.80" font-size="10.3" text-anchor="middle" font-weight="normal" font-style="normal" fill="#1a1a1a" >20</text>
<line x1="527.30" y1="695.10" x2="527.30" y2="697.30" stroke="#a8a8a8" stroke-width="0.7"/>
<text x="527.30" y="705.80" font-size="10.3" text-anchor="middle" font-weight="normal" font-style="normal" fill="#1a1a1a" >80</text>
<rect x="548.00" y="586.00" width="189.50" height="109.10" fill="none" stroke="#cdcdcd" stroke-width="1"/>
<line x1="590.00" y1="695.10" x2="590.00" y2="697.30" stroke="#a8a8a8" stroke-width="0.7"/>
<text x="590.00" y="705.80" font-size="10.3" text-anchor="middle" font-weight="normal" font-style="normal" fill="#1a1a1a" >0</text>
<line x1="613.10" y1="695.10" x2="613.10" y2="697.30" stroke="#a8a8a8" stroke-width="0.7"/>
<text x="613.10" y="705.80" font-size="10.3" text-anchor="middle" font-weight="normal" font-style="normal" fill="#1a1a1a" >1</text>
<line x1="650.50" y1="695.10" x2="650.50" y2="697.30" stroke="#a8a8a8" stroke-width="0.7"/>
<text x="650.50" y="705.80" font-size="10.3" text-anchor="middle" font-weight="normal" font-style="normal" fill="#1a1a1a" >5</text>
<line x1="687.40" y1="695.10" x2="687.40" y2="697.30" stroke="#a8a8a8" stroke-width="0.7"/>
<text x="687.40" y="705.80" font-size="10.3" text-anchor="middle" font-weight="normal" font-style="normal" fill="#1a1a1a" >20</text>
<line x1="722.50" y1="695.10" x2="722.50" y2="697.30" stroke="#a8a8a8" stroke-width="0.7"/>
<text x="722.50" y="705.80" font-size="10.3" text-anchor="middle" font-weight="normal" font-style="normal" fill="#1a1a1a" >80</text>
<line x1="350.20" y1="590.90" x2="352.40" y2="590.90" stroke="#a8a8a8" stroke-width="0.7"/>
<text x="349.20" y="594.50" font-size="10.3" text-anchor="end" font-weight="normal" font-style="normal" fill="#1a1a1a" >1.00</text>
<line x1="350.20" y1="615.83" x2="352.40" y2="615.83" stroke="#a8a8a8" stroke-width="0.7"/>
<text x="349.20" y="619.43" font-size="10.3" text-anchor="end" font-weight="normal" font-style="normal" fill="#1a1a1a" >0.75</text>
<line x1="350.20" y1="640.75" x2="352.40" y2="640.75" stroke="#a8a8a8" stroke-width="0.7"/>
<text x="349.20" y="644.36" font-size="10.3" text-anchor="end" font-weight="normal" font-style="normal" fill="#1a1a1a" >0.50</text>
<line x1="350.20" y1="665.68" x2="352.40" y2="665.68" stroke="#a8a8a8" stroke-width="0.7"/>
<text x="349.20" y="669.28" font-size="10.3" text-anchor="end" font-weight="normal" font-style="normal" fill="#1a1a1a" >0.25</text>
<line x1="350.20" y1="690.60" x2="352.40" y2="690.60" stroke="#a8a8a8" stroke-width="0.7"/>
<text x="349.20" y="694.21" font-size="10.3" text-anchor="end" font-weight="normal" font-style="normal" fill="#1a1a1a" >0.00</text>
<text x="446.90" y="715.60" font-size="10.3" text-anchor="middle" font-weight="bold" font-style="normal" fill="#000" >Nanog:GFP [a.u.]</text>
<text x="608.2" y="715.5" font-size="10.2" font-weight="bold">Nanog<tspan font-size="6.1" dy="-2.9">KATUSHKA</tspan><tspan dy="2.9"> [a.u.]</tspan></text>
<text transform="translate(325.00,641.00) rotate(-90)" font-size="10.3" text-anchor="middle" font-weight="bold" fill="#000">Density (scaled)</text>
<rect x="371.70" y="570.70" width="9.60" height="9.60" fill="#fff" stroke="#777" stroke-opacity="0.45" stroke-width="0.6"/>
<line x1="372.40" y1="579.60" x2="380.60" y2="571.40" stroke="#111" stroke-width="1.3"/>
<text x="382.90" y="578.60" font-size="10.3" text-anchor="start" font-weight="normal" font-style="normal" fill="#222" >d0 SerumLIF+2i</text>
<rect x="466.90" y="570.70" width="9.60" height="9.60" fill="#fff" stroke="#6b9bcf" stroke-opacity="0.45" stroke-width="0.6"/>
<line x1="467.60" y1="579.60" x2="475.80" y2="571.40" stroke="#6b9bcf" stroke-width="1.3"/>
<text x="477.70" y="578.60" font-size="10.3" text-anchor="start" font-weight="normal" font-style="normal" fill="#222" >d2 SerumLIF+2i</text>
<rect x="561.70" y="570.70" width="9.60" height="9.60" fill="#fff" stroke="#3e8a3a" stroke-opacity="0.45" stroke-width="0.6"/>
<line x1="562.40" y1="579.60" x2="570.60" y2="571.40" stroke="#3e8a3a" stroke-width="1.3"/>
<text x="572.60" y="578.60" font-size="10.3" text-anchor="start" font-weight="normal" font-style="normal" fill="#222" >d0 SerumLIF+2i (survival for 2d)</text>
</g></svg>
</body></html>
